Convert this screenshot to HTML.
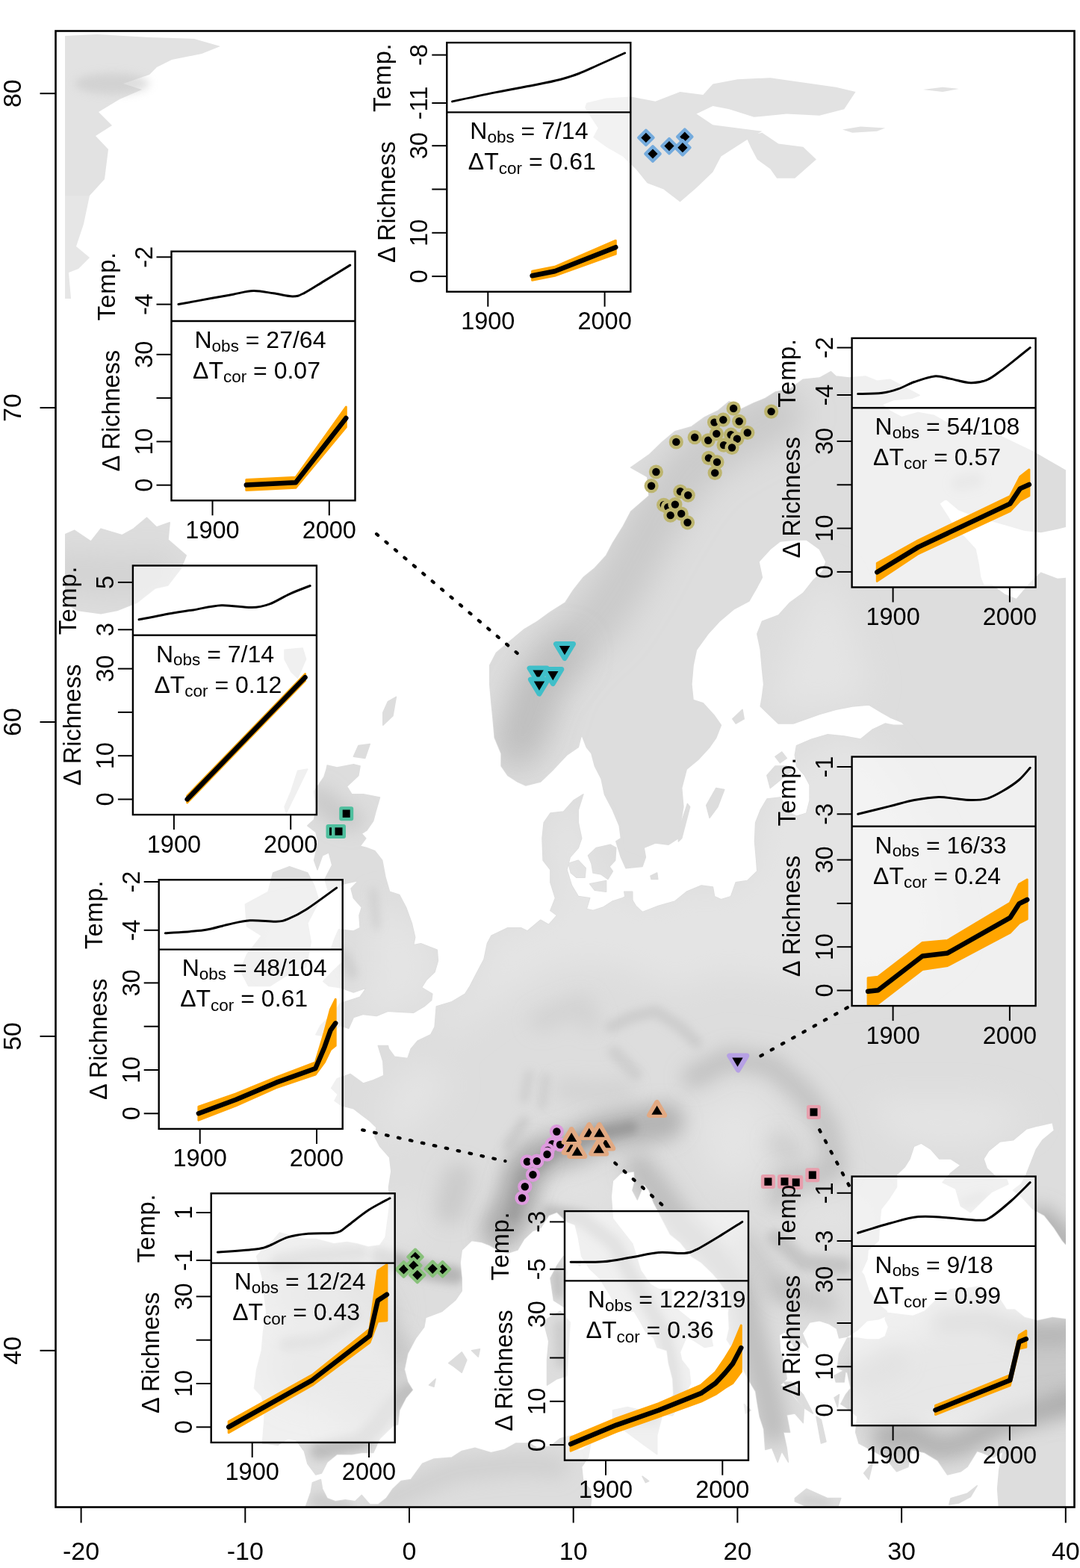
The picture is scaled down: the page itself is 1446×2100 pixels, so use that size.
<!DOCTYPE html>
<html><head><meta charset="utf-8"><title>Species richness change map</title>
<style>html,body{margin:0;padding:0;background:#fff;overflow:hidden;width:1446px;height:2100px;}svg{display:block;}text{font-family:"Liberation Sans", Arial, Helvetica, sans-serif;fill:#000;}</style></head><body>
<svg width="1446" height="2100" viewBox="0 0 1446 2100">
<defs>
<clipPath id="mapclip"><rect x="87" y="42.5" width="1340" height="1975"/></clipPath>
<filter id="b6" filterUnits="userSpaceOnUse" x="0" y="0" width="1446" height="2100"><feGaussianBlur stdDeviation="6"/></filter>
<filter id="b12" filterUnits="userSpaceOnUse" x="0" y="0" width="1446" height="2100"><feGaussianBlur stdDeviation="12"/></filter>
<filter id="b20" filterUnits="userSpaceOnUse" x="0" y="0" width="1446" height="2100"><feGaussianBlur stdDeviation="20"/></filter>
<filter id="b3" filterUnits="userSpaceOnUse" x="0" y="0" width="1446" height="2100"><feGaussianBlur stdDeviation="3"/></filter>
</defs>
<rect width="1446" height="2100" fill="#fff"/>
<g clip-path="url(#mapclip)">
<g id="land" fill="#dddddd" stroke="#dddddd" stroke-width="1.5" stroke-linejoin="round">
<polygon points="1426.8,630.3 1404.8,617.7 1382.9,605.0 1360.9,594.5 1338.9,584.0 1316.9,579.8 1295.0,573.5 1284.0,575.6 1273.0,569.2 1251.0,556.6 1229.1,552.4 1207.1,558.7 1191.7,550.3 1180.7,541.9 1196.1,535.6 1220.3,533.5 1231.3,529.3 1211.5,518.7 1191.7,508.2 1174.1,510.3 1158.8,504.0 1136.8,506.1 1119.2,504.0 1112.6,497.7 1097.2,506.1 1075.3,508.2 1057.7,520.8 1037.9,525.1 1024.7,533.5 1009.4,539.8 991.8,548.2 976.4,537.7 961.0,550.3 943.5,558.7 925.9,571.4 903.9,577.7 886.3,592.4 868.8,609.2 844.6,626.1 866.6,638.7 868.8,664.0 844.6,685.0 833.6,706.0 820.4,727.1 811.6,743.9 796.3,760.8 780.9,773.4 767.7,790.2 756.7,807.1 736.9,819.7 719.4,832.3 701.8,842.8 684.2,857.6 664.4,874.4 655.7,891.2 655.7,916.5 657.9,941.7 660.0,962.8 662.2,988.0 671.0,1009.1 671.0,1025.9 679.8,1038.6 693.0,1047.0 704.0,1052.0 723.8,1047.0 741.3,1030.1 758.9,1011.2 774.3,1000.7 778.7,983.8 785.3,1000.7 791.9,1009.1 796.3,1025.9 805.0,1042.8 809.4,1063.8 820.4,1084.9 829.2,1105.9 831.4,1122.7 824.8,1126.9 831.4,1148.0 838.0,1162.7 860.0,1160.6 864.4,1148.0 862.2,1135.4 877.5,1129.0 895.1,1131.2 908.3,1122.7 910.5,1105.9 914.9,1080.6 912.7,1055.4 919.3,1030.1 934.7,1017.5 950.1,1000.7 958.8,988.0 965.4,971.2 956.6,958.6 941.3,941.7 928.1,937.5 925.9,916.5 928.1,891.2 932.5,870.2 947.9,849.1 963.2,832.3 983.0,815.5 1002.8,805.0 1013.8,786.0 1020.4,773.4 1016.0,752.3 1031.3,735.5 1044.5,725.0 1064.3,722.9 1079.7,722.9 1097.2,735.5 1106.0,752.3 1101.6,765.0 1088.5,777.6 1075.3,794.4 1057.7,807.1 1042.3,823.9 1020.4,832.3 1013.8,849.1 1018.2,870.2 1020.4,895.4 1022.6,916.5 1020.4,933.3 1018.2,946.0 1031.3,958.6 1042.3,969.1 1062.1,969.1 1079.7,962.8 1097.2,956.5 1119.2,950.2 1141.2,946.0 1163.2,943.9 1180.7,954.4 1191.7,960.7 1207.1,967.0 1211.5,971.2 1196.1,971.2 1185.1,969.1 1167.6,977.5 1152.2,990.1 1130.2,985.9 1108.2,983.8 1086.3,990.1 1066.5,998.6 1064.3,1011.2 1066.5,1025.9 1077.5,1038.6 1084.1,1051.2 1084.1,1072.2 1079.7,1089.1 1066.5,1093.3 1057.7,1089.1 1044.5,1068.0 1026.9,1070.1 1018.2,1084.9 1011.6,1101.7 1010.5,1126.9 1012.7,1152.2 1013.8,1166.9 1000.6,1179.6 985.2,1181.7 978.6,1200.6 965.4,1204.8 956.6,1200.6 954.4,1188.0 939.1,1185.9 919.3,1194.3 903.9,1206.9 881.9,1213.2 860.0,1221.6 851.2,1213.2 842.4,1198.5 833.6,1202.7 820.4,1206.9 807.2,1215.3 794.1,1219.5 785.3,1217.4 789.7,1202.7 774.3,1200.6 765.5,1185.9 758.9,1164.8 763.3,1148.0 774.3,1135.4 778.7,1122.7 774.3,1101.7 774.3,1084.9 780.9,1063.8 767.7,1072.2 754.5,1087.0 736.9,1089.1 728.2,1101.7 726.0,1122.7 727.1,1152.2 736.9,1164.8 736.9,1181.7 743.5,1202.7 736.9,1219.5 745.7,1225.9 734.7,1238.5 723.8,1232.2 706.2,1246.9 697.4,1242.7 679.8,1242.7 657.9,1253.2 652.4,1263.7 648.0,1284.8 638.1,1303.7 629.3,1320.6 622.7,1331.1 605.1,1341.6 584.3,1347.9 582.1,1375.3 576.6,1385.8 559.0,1394.2 550.2,1404.7 545.8,1417.4 528.2,1415.3 520.5,1404.7 519.4,1400.5 506.3,1400.5 512.8,1421.6 513.9,1440.5 499.7,1446.8 486.5,1451.0 468.9,1438.4 451.3,1444.7 443.6,1457.3 452.4,1465.8 448.0,1474.2 456.8,1480.5 473.3,1484.7 484.3,1493.1 495.3,1501.5 504.1,1510.0 501.9,1522.6 508.5,1535.2 521.6,1549.9 523.8,1568.9 520.5,1589.9 521.6,1615.2 519.4,1632.0 516.1,1657.3 508.5,1667.8 493.1,1669.9 477.7,1665.7 464.5,1663.6 446.9,1665.7 422.8,1659.4 407.4,1659.4 389.8,1655.2 374.4,1651.0 365.6,1661.5 354.7,1669.9 343.7,1682.5 348.1,1699.4 352.5,1716.2 353.6,1733.0 356.9,1758.3 352.5,1783.5 350.3,1808.8 343.7,1834.1 340.4,1859.3 350.3,1869.8 354.7,1884.6 353.6,1905.6 351.4,1933.0 372.2,1935.1 385.4,1926.7 396.4,1928.8 407.4,1943.5 411.8,1960.3 422.8,1975.1 430.5,1973.0 438.1,1958.2 451.3,1947.7 471.1,1947.7 484.3,1945.6 499.7,1945.6 508.5,1926.7 526.0,1909.8 532.6,1907.7 534.8,1888.8 543.6,1871.9 552.4,1861.4 545.8,1850.9 541.4,1834.1 545.8,1813.0 556.8,1792.0 567.8,1777.2 570.0,1764.6 591.9,1756.2 609.5,1741.5 618.3,1728.8 618.3,1712.0 616.1,1690.9 618.3,1674.1 631.5,1661.5 644.7,1663.6 655.7,1667.8 666.6,1674.1 679.8,1678.3 693.0,1674.1 701.8,1659.4 712.8,1648.9 723.8,1644.6 734.7,1627.8 745.7,1623.6 758.9,1636.2 769.9,1640.4 774.3,1657.3 778.7,1682.5 789.7,1699.4 802.9,1712.0 816.0,1733.0 824.8,1749.9 835.8,1756.2 849.0,1756.2 857.8,1770.9 864.4,1783.5 875.4,1792.0 879.7,1804.6 892.9,1808.8 895.1,1825.6 900.6,1846.7 901.7,1867.7 892.9,1882.5 891.8,1895.1 900.6,1895.9 911.6,1876.1 924.8,1853.0 922.6,1834.1 912.7,1821.4 910.5,1810.9 919.3,1789.9 930.3,1796.2 943.5,1804.6 954.4,1802.5 952.2,1792.0 943.5,1781.4 928.1,1770.9 912.7,1758.3 899.5,1747.8 898.4,1726.7 881.9,1726.7 871.0,1720.4 857.8,1701.5 846.8,1665.7 833.6,1648.9 820.4,1632.0 818.2,1602.6 820.4,1581.5 831.4,1571.0 849.0,1568.9 850.1,1581.5 846.8,1594.1 853.4,1606.8 862.2,1585.7 868.8,1594.1 875.4,1611.0 884.1,1627.8 897.3,1653.1 910.5,1663.6 925.9,1682.5 939.1,1690.9 954.4,1705.7 963.2,1716.2 972.0,1728.8 978.6,1737.2 975.3,1758.3 976.4,1779.3 973.1,1794.1 985.2,1813.0 991.8,1827.7 1002.8,1848.8 1011.6,1863.5 1013.8,1878.2 1017.1,1897.2 1022.6,1914.0 1024.7,1941.4 1033.5,1939.3 1041.2,1958.2 1046.7,1943.5 1055.5,1958.2 1053.3,1939.3 1048.9,1918.2 1057.7,1918.2 1053.3,1895.1 1064.3,1893.0 1075.3,1905.6 1076.4,1886.7 1066.5,1876.1 1053.3,1859.3 1044.5,1855.1 1053.3,1846.7 1051.1,1829.8 1044.5,1808.8 1043.4,1787.8 1051.1,1783.5 1059.9,1798.3 1068.7,1810.9 1073.1,1796.2 1081.9,1804.6 1074.2,1785.7 1084.1,1770.9 1097.2,1768.8 1110.4,1773.0 1120.3,1779.3 1123.6,1792.0 1134.6,1789.9 1147.8,1781.4 1161.0,1768.8 1176.3,1766.7 1186.2,1762.5 1187.3,1756.2 1174.1,1745.7 1163.2,1728.8 1156.6,1707.8 1153.3,1703.6 1161.0,1686.7 1162.1,1674.1 1176.3,1661.5 1177.4,1640.4 1179.6,1619.4 1189.5,1606.8 1200.5,1589.9 1200.5,1573.1 1211.5,1562.6 1218.1,1552.1 1223.6,1535.2 1233.5,1531.0 1246.6,1539.4 1257.6,1552.1 1273.0,1552.1 1286.2,1560.5 1273.0,1571.0 1262.0,1583.6 1279.6,1592.0 1286.2,1615.2 1299.4,1623.6 1316.9,1606.8 1327.9,1596.2 1349.9,1585.7 1347.7,1579.4 1334.5,1577.3 1321.3,1564.7 1316.9,1552.1 1323.5,1541.5 1338.9,1528.9 1356.5,1526.8 1374.1,1512.1 1389.5,1507.9 1409.2,1503.6 1411.4,1514.2 1396.0,1526.8 1387.3,1539.4 1380.7,1556.3 1374.1,1573.1 1367.5,1585.7 1356.5,1594.1 1367.5,1602.6 1382.9,1619.4 1398.2,1627.8 1411.4,1644.6 1422.4,1661.5 1426.8,1666.5 1440.0,1674.1 1440.0,773.4 1415.8,775.5 1393.8,767.1 1378.5,781.8 1360.9,802.8 1345.5,796.5 1327.9,783.9 1316.9,783.9 1312.6,773.4 1310.4,756.6 1306.0,735.5 1290.6,718.7 1277.4,706.0 1268.6,691.3 1257.6,674.5 1266.4,668.2 1284.0,682.9 1306.0,691.3 1327.9,697.6 1349.9,703.9 1371.9,710.3 1393.8,712.4 1415.8,708.1 1440.0,701.8 1440.0,638.7"/>
<polygon points="1187.3,1758.3 1204.9,1760.4 1222.5,1762.5 1237.9,1756.2 1255.4,1739.4 1273.0,1726.7 1295.0,1725.5 1314.8,1722.5 1321.3,1737.2 1336.7,1737.2 1347.7,1754.1 1358.7,1754.1 1371.9,1764.6 1389.5,1768.8 1409.2,1764.6 1426.8,1766.7 1440.0,1766.7 1440.0,2023.5 1337.8,2023.5 1335.6,1994.0 1337.8,1968.7 1343.3,1943.5 1330.1,1951.9 1314.8,1945.6 1308.2,1943.5 1295.0,1964.5 1286.2,1970.8 1268.6,1975.1 1255.4,1956.1 1237.9,1945.6 1220.3,1941.4 1215.9,1964.5 1200.5,1970.8 1185.1,1951.9 1169.8,1943.5 1150.0,1933.0 1145.6,1918.2 1147.8,1897.2 1132.4,1884.6 1125.8,1880.4 1132.4,1867.7 1139.0,1859.3 1134.6,1838.3 1121.4,1831.9 1123.6,1813.0 1129.1,1802.5 1134.6,1792.0 1147.8,1792.0 1161.0,1794.1 1176.3,1794.1 1185.1,1789.9 1189.5,1777.2 1185.1,1766.7"/>
<polygon points="407.4,2023.5 409.6,2017.1 416.2,1998.2 418.4,1985.6 429.4,1981.4 431.6,1994.0 438.1,2006.6 449.1,2010.8 462.3,2008.7 475.5,2010.8 484.3,2002.4 495.3,2015.0 506.3,2015.0 517.2,2006.6 526.0,1994.0 537.0,1983.5 550.2,1981.4 565.6,1960.3 581.0,1954.0 605.1,1951.9 618.3,1943.5 635.9,1939.3 657.9,1945.6 675.4,1941.4 690.8,1933.0 708.4,1933.0 719.4,1939.3 736.9,1937.2 750.1,1926.7 765.5,1922.4 772.1,1928.8 774.3,1943.5 780.9,1941.4 790.8,1933.0 787.5,1951.9 778.7,1964.5 780.9,1985.6 789.7,1994.0 791.9,2006.6 789.7,2023.5"/>
<polygon points="64.7,805.0 49.3,800.7 69.1,783.9 55.9,765.0 22.9,765.0 55.9,754.4 11.9,735.5 36.1,720.8 44.9,699.7 60.3,697.6 80.0,718.7 99.8,710.3 121.8,725.0 135.0,708.1 163.5,716.6 178.9,708.1 196.5,693.4 209.7,706.0 227.2,699.7 225.0,722.9 249.2,743.9 242.6,760.8 225.0,783.9 207.5,788.1 183.3,807.1 156.9,817.6 135.0,821.8 104.2,817.6 82.2,805.0"/>
<polygon points="381.0,870.2 405.2,868.1 409.6,882.8 398.6,908.1 389.8,899.7 381.0,882.8"/>
<polygon points="512.8,971.2 526.0,958.6 530.4,933.3 519.4,939.6 512.8,954.4"/>
<polygon points="473.3,1013.3 488.7,1015.4 495.3,996.5 479.9,998.6"/>
<polygon points="383.2,1089.1 411.8,1030.1 398.6,1032.2 389.8,1059.6 381.0,1080.6"/>
<polygon points="438.1,1025.1 451.3,1028.0 473.3,1023.8 482.1,1025.9 479.9,1038.6 464.5,1053.3 471.1,1063.8 486.5,1063.8 508.5,1068.0 503.0,1087.0 499.7,1099.6 490.9,1112.2 484.3,1116.4 489.8,1122.7 482.1,1133.3 490.9,1135.4 501.9,1139.6 511.7,1152.2 516.1,1175.3 521.6,1194.3 534.8,1198.5 543.6,1215.3 551.3,1236.4 555.7,1255.3 553.5,1265.8 563.4,1263.7 585.3,1272.2 586.4,1286.9 582.1,1301.6 571.1,1312.1 564.5,1322.7 578.8,1331.1 577.7,1339.5 567.8,1347.9 553.5,1356.3 530.4,1355.1 519.4,1354.2 504.1,1360.5 486.5,1358.4 473.3,1362.6 466.7,1377.4 455.7,1373.2 438.1,1387.9 422.8,1385.8 429.4,1373.2 446.9,1356.3 455.7,1343.7 475.5,1337.4 482.1,1335.3 490.9,1322.7 473.3,1329.0 455.7,1322.7 440.3,1320.6 432.7,1314.2 446.9,1299.5 457.9,1289.0 457.9,1270.0 443.6,1270.0 448.0,1257.4 453.5,1244.8 473.3,1246.9 482.1,1242.7 481.0,1225.9 484.3,1215.3 473.3,1202.7 470.0,1190.1 479.9,1179.6 460.1,1183.8 451.3,1190.1 439.2,1192.2 434.9,1177.5 444.7,1158.5 440.3,1141.7 431.6,1145.9 425.0,1164.8 420.6,1152.2 426.1,1126.9 422.8,1114.3 411.8,1105.9 420.6,1097.5 422.8,1080.6 420.6,1059.6 433.8,1040.7 437.1,1030.1"/>
<polygon points="411.8,1169.0 387.6,1160.6 365.6,1169.0 359.1,1194.3 328.3,1211.1 330.5,1240.6 350.3,1253.2 330.5,1278.5 321.7,1299.5 332.7,1320.6 361.3,1320.6 394.2,1299.5 409.6,1295.3 416.2,1261.6 411.8,1236.4 427.2,1206.9 420.6,1185.9"/>
<polygon points="787.5,1145.9 798.5,1135.4 817.1,1131.2 824.8,1135.4 823.7,1152.2 816.0,1160.6 820.4,1166.9 813.8,1177.5 805.0,1171.1 794.1,1169.0 791.9,1156.4"/>
<polygon points="761.1,1156.4 774.3,1152.2 784.2,1162.7 783.1,1175.3 772.1,1175.3 764.4,1169.0"/>
<polygon points="789.7,1183.8 811.6,1179.6 811.6,1194.3 796.3,1192.2"/>
<polygon points="871.0,1173.2 879.7,1169.0 880.8,1177.5 872.1,1177.5"/>
<polygon points="945.7,1078.5 958.8,1055.4 969.8,1057.5 961.0,1080.6 950.1,1095.4"/>
<polygon points="908.3,1126.9 912.7,1122.7 923.7,1080.6 920.4,1076.4 909.4,1110.1"/>
<polygon points="1026.9,1038.6 1037.9,1025.9 1053.3,1025.9 1059.9,1032.2 1046.7,1042.8 1031.3,1055.4"/>
<polygon points="1037.9,1013.3 1046.7,1007.0 1053.3,1015.4 1044.5,1021.7"/>
<polygon points="980.8,962.8 994.0,950.2 996.2,962.8 985.2,969.1"/>
<polygon points="835.8,1194.3 846.8,1194.3 846.8,1206.9 838.0,1206.9"/>
<polygon points="820.4,1888.8 840.2,1884.6 866.6,1890.9 890.7,1880.4 879.7,1922.4 879.7,1947.7 862.2,1935.1 833.6,1914.0 820.4,1901.4"/>
<polygon points="732.5,1766.7 750.1,1756.2 763.3,1770.9 761.1,1804.6 758.9,1842.5 745.7,1846.7 732.5,1855.1 732.5,1821.4 734.7,1796.2 728.2,1770.9"/>
<polygon points="754.5,1682.5 758.9,1703.6 754.5,1749.9 741.3,1741.5 736.9,1712.0 745.7,1695.2"/>
<polygon points="1064.3,2006.6 1079.7,1994.0 1108.2,2006.6 1125.8,2006.6 1121.4,2019.3 1092.9,2023.5 1064.3,2010.8"/>
<polygon points="1273.0,2006.6 1295.0,2000.3 1308.2,1989.8 1299.4,2004.5 1284.0,2012.9 1270.8,2015.0"/>
<polygon points="600.7,1825.6 618.3,1810.9 624.9,1821.4 618.3,1838.3 607.3,1829.8"/>
<polygon points="631.5,1808.8 642.5,1806.7 640.3,1817.2"/>
<polygon points="574.4,1855.1 583.2,1846.7 581.0,1857.2"/>
<polygon points="1048.9,1850.9 1075.3,1884.6 1088.5,1893.0 1075.3,1867.7 1059.9,1850.9"/>
<polygon points="1117.0,1842.5 1132.4,1834.1 1130.2,1850.9 1119.2,1850.9"/>
<polygon points="1117.0,1871.9 1123.6,1867.7 1121.4,1884.6"/>
<polygon points="1156.6,1973.0 1168.7,1958.2 1163.2,1981.4"/>
<polygon points="978.6,1817.2 989.6,1821.4 985.2,1834.1"/>
<polygon points="996.2,1880.4 1005.0,1888.8 998.4,1893.0"/>
<polygon points="769.9,1690.9 777.6,1688.8 776.5,1695.2"/>
<polygon points="860.0,1977.2 868.8,1983.5 864.4,1985.6"/>
<polygon points="1092.9,1897.2 1099.4,1901.4 1106.0,1930.9 1099.4,1933.0"/>
</g>
<g fill="#e2e2e2">
<polygon points="785.3,137.8 811.6,131.5 844.6,129.4 877.5,135.7 910.5,123.1 943.5,127.3 954.4,142.0 932.5,152.6 954.4,167.3 1020.4,175.7 998.4,188.3 965.4,209.4 954.4,230.4 932.5,251.5 910.5,270.4 888.5,253.6 866.6,245.2 851.2,226.2 833.6,209.4 811.6,196.8 794.1,184.1 800.7,171.5 789.7,154.7 783.1,144.1"/>
<polygon points="939.1,129.4 954.4,112.6 987.4,106.3 1031.3,104.2 1075.3,110.5 1119.2,116.8 1145.6,123.1 1130.2,146.2 1097.2,154.7 1053.3,152.6 1009.4,156.8 976.4,146.2 954.4,142.0"/>
<polygon points="998.4,182.0 1020.4,177.8 1042.3,192.5 1075.3,196.8 1092.9,213.6 1064.3,238.8 1040.1,238.8 1031.3,226.2 1013.8,213.6 1005.0,196.8"/>
<polygon points="1128.0,173.6 1152.2,169.4 1185.1,171.5 1174.1,175.7 1141.2,177.8"/>
<polygon points="1235.7,120.1 1262.0,116.8 1284.0,118.9 1262.0,123.1"/>
<polygon points="87.0,48.0 130.0,46.0 200.0,50.0 260.0,52.0 295.0,62.0 270.0,72.0 230.0,80.0 210.0,90.0 200.0,100.0 165.0,112.0 190.0,120.0 160.0,133.0 132.0,150.0 150.0,168.0 128.0,182.0 145.0,200.0 140.0,240.0 120.0,262.0 87.0,262.0"/>
</g>
<polygon points="87.0,262.0 120.0,262.0 112.0,300.0 102.0,330.0 120.0,345.0 105.0,360.0 92.0,365.0 95.0,400.0 87.0,400.0" fill="#e6e6e6"/>
<ellipse cx="150" cy="112" rx="50" ry="14" fill="#c8c8c8" filter="url(#b6)" opacity="0.6"/>
<clipPath id="landclip">
<polygon points="1426.8,630.3 1404.8,617.7 1382.9,605.0 1360.9,594.5 1338.9,584.0 1316.9,579.8 1295.0,573.5 1284.0,575.6 1273.0,569.2 1251.0,556.6 1229.1,552.4 1207.1,558.7 1191.7,550.3 1180.7,541.9 1196.1,535.6 1220.3,533.5 1231.3,529.3 1211.5,518.7 1191.7,508.2 1174.1,510.3 1158.8,504.0 1136.8,506.1 1119.2,504.0 1112.6,497.7 1097.2,506.1 1075.3,508.2 1057.7,520.8 1037.9,525.1 1024.7,533.5 1009.4,539.8 991.8,548.2 976.4,537.7 961.0,550.3 943.5,558.7 925.9,571.4 903.9,577.7 886.3,592.4 868.8,609.2 844.6,626.1 866.6,638.7 868.8,664.0 844.6,685.0 833.6,706.0 820.4,727.1 811.6,743.9 796.3,760.8 780.9,773.4 767.7,790.2 756.7,807.1 736.9,819.7 719.4,832.3 701.8,842.8 684.2,857.6 664.4,874.4 655.7,891.2 655.7,916.5 657.9,941.7 660.0,962.8 662.2,988.0 671.0,1009.1 671.0,1025.9 679.8,1038.6 693.0,1047.0 704.0,1052.0 723.8,1047.0 741.3,1030.1 758.9,1011.2 774.3,1000.7 778.7,983.8 785.3,1000.7 791.9,1009.1 796.3,1025.9 805.0,1042.8 809.4,1063.8 820.4,1084.9 829.2,1105.9 831.4,1122.7 824.8,1126.9 831.4,1148.0 838.0,1162.7 860.0,1160.6 864.4,1148.0 862.2,1135.4 877.5,1129.0 895.1,1131.2 908.3,1122.7 910.5,1105.9 914.9,1080.6 912.7,1055.4 919.3,1030.1 934.7,1017.5 950.1,1000.7 958.8,988.0 965.4,971.2 956.6,958.6 941.3,941.7 928.1,937.5 925.9,916.5 928.1,891.2 932.5,870.2 947.9,849.1 963.2,832.3 983.0,815.5 1002.8,805.0 1013.8,786.0 1020.4,773.4 1016.0,752.3 1031.3,735.5 1044.5,725.0 1064.3,722.9 1079.7,722.9 1097.2,735.5 1106.0,752.3 1101.6,765.0 1088.5,777.6 1075.3,794.4 1057.7,807.1 1042.3,823.9 1020.4,832.3 1013.8,849.1 1018.2,870.2 1020.4,895.4 1022.6,916.5 1020.4,933.3 1018.2,946.0 1031.3,958.6 1042.3,969.1 1062.1,969.1 1079.7,962.8 1097.2,956.5 1119.2,950.2 1141.2,946.0 1163.2,943.9 1180.7,954.4 1191.7,960.7 1207.1,967.0 1211.5,971.2 1196.1,971.2 1185.1,969.1 1167.6,977.5 1152.2,990.1 1130.2,985.9 1108.2,983.8 1086.3,990.1 1066.5,998.6 1064.3,1011.2 1066.5,1025.9 1077.5,1038.6 1084.1,1051.2 1084.1,1072.2 1079.7,1089.1 1066.5,1093.3 1057.7,1089.1 1044.5,1068.0 1026.9,1070.1 1018.2,1084.9 1011.6,1101.7 1010.5,1126.9 1012.7,1152.2 1013.8,1166.9 1000.6,1179.6 985.2,1181.7 978.6,1200.6 965.4,1204.8 956.6,1200.6 954.4,1188.0 939.1,1185.9 919.3,1194.3 903.9,1206.9 881.9,1213.2 860.0,1221.6 851.2,1213.2 842.4,1198.5 833.6,1202.7 820.4,1206.9 807.2,1215.3 794.1,1219.5 785.3,1217.4 789.7,1202.7 774.3,1200.6 765.5,1185.9 758.9,1164.8 763.3,1148.0 774.3,1135.4 778.7,1122.7 774.3,1101.7 774.3,1084.9 780.9,1063.8 767.7,1072.2 754.5,1087.0 736.9,1089.1 728.2,1101.7 726.0,1122.7 727.1,1152.2 736.9,1164.8 736.9,1181.7 743.5,1202.7 736.9,1219.5 745.7,1225.9 734.7,1238.5 723.8,1232.2 706.2,1246.9 697.4,1242.7 679.8,1242.7 657.9,1253.2 652.4,1263.7 648.0,1284.8 638.1,1303.7 629.3,1320.6 622.7,1331.1 605.1,1341.6 584.3,1347.9 582.1,1375.3 576.6,1385.8 559.0,1394.2 550.2,1404.7 545.8,1417.4 528.2,1415.3 520.5,1404.7 519.4,1400.5 506.3,1400.5 512.8,1421.6 513.9,1440.5 499.7,1446.8 486.5,1451.0 468.9,1438.4 451.3,1444.7 443.6,1457.3 452.4,1465.8 448.0,1474.2 456.8,1480.5 473.3,1484.7 484.3,1493.1 495.3,1501.5 504.1,1510.0 501.9,1522.6 508.5,1535.2 521.6,1549.9 523.8,1568.9 520.5,1589.9 521.6,1615.2 519.4,1632.0 516.1,1657.3 508.5,1667.8 493.1,1669.9 477.7,1665.7 464.5,1663.6 446.9,1665.7 422.8,1659.4 407.4,1659.4 389.8,1655.2 374.4,1651.0 365.6,1661.5 354.7,1669.9 343.7,1682.5 348.1,1699.4 352.5,1716.2 353.6,1733.0 356.9,1758.3 352.5,1783.5 350.3,1808.8 343.7,1834.1 340.4,1859.3 350.3,1869.8 354.7,1884.6 353.6,1905.6 351.4,1933.0 372.2,1935.1 385.4,1926.7 396.4,1928.8 407.4,1943.5 411.8,1960.3 422.8,1975.1 430.5,1973.0 438.1,1958.2 451.3,1947.7 471.1,1947.7 484.3,1945.6 499.7,1945.6 508.5,1926.7 526.0,1909.8 532.6,1907.7 534.8,1888.8 543.6,1871.9 552.4,1861.4 545.8,1850.9 541.4,1834.1 545.8,1813.0 556.8,1792.0 567.8,1777.2 570.0,1764.6 591.9,1756.2 609.5,1741.5 618.3,1728.8 618.3,1712.0 616.1,1690.9 618.3,1674.1 631.5,1661.5 644.7,1663.6 655.7,1667.8 666.6,1674.1 679.8,1678.3 693.0,1674.1 701.8,1659.4 712.8,1648.9 723.8,1644.6 734.7,1627.8 745.7,1623.6 758.9,1636.2 769.9,1640.4 774.3,1657.3 778.7,1682.5 789.7,1699.4 802.9,1712.0 816.0,1733.0 824.8,1749.9 835.8,1756.2 849.0,1756.2 857.8,1770.9 864.4,1783.5 875.4,1792.0 879.7,1804.6 892.9,1808.8 895.1,1825.6 900.6,1846.7 901.7,1867.7 892.9,1882.5 891.8,1895.1 900.6,1895.9 911.6,1876.1 924.8,1853.0 922.6,1834.1 912.7,1821.4 910.5,1810.9 919.3,1789.9 930.3,1796.2 943.5,1804.6 954.4,1802.5 952.2,1792.0 943.5,1781.4 928.1,1770.9 912.7,1758.3 899.5,1747.8 898.4,1726.7 881.9,1726.7 871.0,1720.4 857.8,1701.5 846.8,1665.7 833.6,1648.9 820.4,1632.0 818.2,1602.6 820.4,1581.5 831.4,1571.0 849.0,1568.9 850.1,1581.5 846.8,1594.1 853.4,1606.8 862.2,1585.7 868.8,1594.1 875.4,1611.0 884.1,1627.8 897.3,1653.1 910.5,1663.6 925.9,1682.5 939.1,1690.9 954.4,1705.7 963.2,1716.2 972.0,1728.8 978.6,1737.2 975.3,1758.3 976.4,1779.3 973.1,1794.1 985.2,1813.0 991.8,1827.7 1002.8,1848.8 1011.6,1863.5 1013.8,1878.2 1017.1,1897.2 1022.6,1914.0 1024.7,1941.4 1033.5,1939.3 1041.2,1958.2 1046.7,1943.5 1055.5,1958.2 1053.3,1939.3 1048.9,1918.2 1057.7,1918.2 1053.3,1895.1 1064.3,1893.0 1075.3,1905.6 1076.4,1886.7 1066.5,1876.1 1053.3,1859.3 1044.5,1855.1 1053.3,1846.7 1051.1,1829.8 1044.5,1808.8 1043.4,1787.8 1051.1,1783.5 1059.9,1798.3 1068.7,1810.9 1073.1,1796.2 1081.9,1804.6 1074.2,1785.7 1084.1,1770.9 1097.2,1768.8 1110.4,1773.0 1120.3,1779.3 1123.6,1792.0 1134.6,1789.9 1147.8,1781.4 1161.0,1768.8 1176.3,1766.7 1186.2,1762.5 1187.3,1756.2 1174.1,1745.7 1163.2,1728.8 1156.6,1707.8 1153.3,1703.6 1161.0,1686.7 1162.1,1674.1 1176.3,1661.5 1177.4,1640.4 1179.6,1619.4 1189.5,1606.8 1200.5,1589.9 1200.5,1573.1 1211.5,1562.6 1218.1,1552.1 1223.6,1535.2 1233.5,1531.0 1246.6,1539.4 1257.6,1552.1 1273.0,1552.1 1286.2,1560.5 1273.0,1571.0 1262.0,1583.6 1279.6,1592.0 1286.2,1615.2 1299.4,1623.6 1316.9,1606.8 1327.9,1596.2 1349.9,1585.7 1347.7,1579.4 1334.5,1577.3 1321.3,1564.7 1316.9,1552.1 1323.5,1541.5 1338.9,1528.9 1356.5,1526.8 1374.1,1512.1 1389.5,1507.9 1409.2,1503.6 1411.4,1514.2 1396.0,1526.8 1387.3,1539.4 1380.7,1556.3 1374.1,1573.1 1367.5,1585.7 1356.5,1594.1 1367.5,1602.6 1382.9,1619.4 1398.2,1627.8 1411.4,1644.6 1422.4,1661.5 1426.8,1666.5 1440.0,1674.1 1440.0,773.4 1415.8,775.5 1393.8,767.1 1378.5,781.8 1360.9,802.8 1345.5,796.5 1327.9,783.9 1316.9,783.9 1312.6,773.4 1310.4,756.6 1306.0,735.5 1290.6,718.7 1277.4,706.0 1268.6,691.3 1257.6,674.5 1266.4,668.2 1284.0,682.9 1306.0,691.3 1327.9,697.6 1349.9,703.9 1371.9,710.3 1393.8,712.4 1415.8,708.1 1440.0,701.8 1440.0,638.7"/>
<polygon points="1187.3,1758.3 1204.9,1760.4 1222.5,1762.5 1237.9,1756.2 1255.4,1739.4 1273.0,1726.7 1295.0,1725.5 1314.8,1722.5 1321.3,1737.2 1336.7,1737.2 1347.7,1754.1 1358.7,1754.1 1371.9,1764.6 1389.5,1768.8 1409.2,1764.6 1426.8,1766.7 1440.0,1766.7 1440.0,2023.5 1337.8,2023.5 1335.6,1994.0 1337.8,1968.7 1343.3,1943.5 1330.1,1951.9 1314.8,1945.6 1308.2,1943.5 1295.0,1964.5 1286.2,1970.8 1268.6,1975.1 1255.4,1956.1 1237.9,1945.6 1220.3,1941.4 1215.9,1964.5 1200.5,1970.8 1185.1,1951.9 1169.8,1943.5 1150.0,1933.0 1145.6,1918.2 1147.8,1897.2 1132.4,1884.6 1125.8,1880.4 1132.4,1867.7 1139.0,1859.3 1134.6,1838.3 1121.4,1831.9 1123.6,1813.0 1129.1,1802.5 1134.6,1792.0 1147.8,1792.0 1161.0,1794.1 1176.3,1794.1 1185.1,1789.9 1189.5,1777.2 1185.1,1766.7"/>
<polygon points="407.4,2023.5 409.6,2017.1 416.2,1998.2 418.4,1985.6 429.4,1981.4 431.6,1994.0 438.1,2006.6 449.1,2010.8 462.3,2008.7 475.5,2010.8 484.3,2002.4 495.3,2015.0 506.3,2015.0 517.2,2006.6 526.0,1994.0 537.0,1983.5 550.2,1981.4 565.6,1960.3 581.0,1954.0 605.1,1951.9 618.3,1943.5 635.9,1939.3 657.9,1945.6 675.4,1941.4 690.8,1933.0 708.4,1933.0 719.4,1939.3 736.9,1937.2 750.1,1926.7 765.5,1922.4 772.1,1928.8 774.3,1943.5 780.9,1941.4 790.8,1933.0 787.5,1951.9 778.7,1964.5 780.9,1985.6 789.7,1994.0 791.9,2006.6 789.7,2023.5"/>
<polygon points="64.7,805.0 49.3,800.7 69.1,783.9 55.9,765.0 22.9,765.0 55.9,754.4 11.9,735.5 36.1,720.8 44.9,699.7 60.3,697.6 80.0,718.7 99.8,710.3 121.8,725.0 135.0,708.1 163.5,716.6 178.9,708.1 196.5,693.4 209.7,706.0 227.2,699.7 225.0,722.9 249.2,743.9 242.6,760.8 225.0,783.9 207.5,788.1 183.3,807.1 156.9,817.6 135.0,821.8 104.2,817.6 82.2,805.0"/>
<polygon points="438.1,1025.1 451.3,1028.0 473.3,1023.8 482.1,1025.9 479.9,1038.6 464.5,1053.3 471.1,1063.8 486.5,1063.8 508.5,1068.0 503.0,1087.0 499.7,1099.6 490.9,1112.2 484.3,1116.4 489.8,1122.7 482.1,1133.3 490.9,1135.4 501.9,1139.6 511.7,1152.2 516.1,1175.3 521.6,1194.3 534.8,1198.5 543.6,1215.3 551.3,1236.4 555.7,1255.3 553.5,1265.8 563.4,1263.7 585.3,1272.2 586.4,1286.9 582.1,1301.6 571.1,1312.1 564.5,1322.7 578.8,1331.1 577.7,1339.5 567.8,1347.9 553.5,1356.3 530.4,1355.1 519.4,1354.2 504.1,1360.5 486.5,1358.4 473.3,1362.6 466.7,1377.4 455.7,1373.2 438.1,1387.9 422.8,1385.8 429.4,1373.2 446.9,1356.3 455.7,1343.7 475.5,1337.4 482.1,1335.3 490.9,1322.7 473.3,1329.0 455.7,1322.7 440.3,1320.6 432.7,1314.2 446.9,1299.5 457.9,1289.0 457.9,1270.0 443.6,1270.0 448.0,1257.4 453.5,1244.8 473.3,1246.9 482.1,1242.7 481.0,1225.9 484.3,1215.3 473.3,1202.7 470.0,1190.1 479.9,1179.6 460.1,1183.8 451.3,1190.1 439.2,1192.2 434.9,1177.5 444.7,1158.5 440.3,1141.7 431.6,1145.9 425.0,1164.8 420.6,1152.2 426.1,1126.9 422.8,1114.3 411.8,1105.9 420.6,1097.5 422.8,1080.6 420.6,1059.6 433.8,1040.7 437.1,1030.1"/>
<polygon points="411.8,1169.0 387.6,1160.6 365.6,1169.0 359.1,1194.3 328.3,1211.1 330.5,1240.6 350.3,1253.2 330.5,1278.5 321.7,1299.5 332.7,1320.6 361.3,1320.6 394.2,1299.5 409.6,1295.3 416.2,1261.6 411.8,1236.4 427.2,1206.9 420.6,1185.9"/>
<polygon points="787.5,1145.9 798.5,1135.4 817.1,1131.2 824.8,1135.4 823.7,1152.2 816.0,1160.6 820.4,1166.9 813.8,1177.5 805.0,1171.1 794.1,1169.0 791.9,1156.4"/>
<polygon points="761.1,1156.4 774.3,1152.2 784.2,1162.7 783.1,1175.3 772.1,1175.3 764.4,1169.0"/>
<polygon points="789.7,1183.8 811.6,1179.6 811.6,1194.3 796.3,1192.2"/>
<polygon points="871.0,1173.2 879.7,1169.0 880.8,1177.5 872.1,1177.5"/>
<polygon points="945.7,1078.5 958.8,1055.4 969.8,1057.5 961.0,1080.6 950.1,1095.4"/>
<polygon points="908.3,1126.9 912.7,1122.7 923.7,1080.6 920.4,1076.4 909.4,1110.1"/>
<polygon points="1026.9,1038.6 1037.9,1025.9 1053.3,1025.9 1059.9,1032.2 1046.7,1042.8 1031.3,1055.4"/>
<polygon points="1037.9,1013.3 1046.7,1007.0 1053.3,1015.4 1044.5,1021.7"/>
<polygon points="980.8,962.8 994.0,950.2 996.2,962.8 985.2,969.1"/>
<polygon points="835.8,1194.3 846.8,1194.3 846.8,1206.9 838.0,1206.9"/>
<polygon points="820.4,1888.8 840.2,1884.6 866.6,1890.9 890.7,1880.4 879.7,1922.4 879.7,1947.7 862.2,1935.1 833.6,1914.0 820.4,1901.4"/>
<polygon points="732.5,1766.7 750.1,1756.2 763.3,1770.9 761.1,1804.6 758.9,1842.5 745.7,1846.7 732.5,1855.1 732.5,1821.4 734.7,1796.2 728.2,1770.9"/>
<polygon points="754.5,1682.5 758.9,1703.6 754.5,1749.9 741.3,1741.5 736.9,1712.0 745.7,1695.2"/>
<polygon points="1064.3,2006.6 1079.7,1994.0 1108.2,2006.6 1125.8,2006.6 1121.4,2019.3 1092.9,2023.5 1064.3,2010.8"/>
<polygon points="1273.0,2006.6 1295.0,2000.3 1308.2,1989.8 1299.4,2004.5 1284.0,2012.9 1270.8,2015.0"/>
<polygon points="600.7,1825.6 618.3,1810.9 624.9,1821.4 618.3,1838.3 607.3,1829.8"/>
<polygon points="631.5,1808.8 642.5,1806.7 640.3,1817.2"/>
<polygon points="574.4,1855.1 583.2,1846.7 581.0,1857.2"/>
<polygon points="1048.9,1850.9 1075.3,1884.6 1088.5,1893.0 1075.3,1867.7 1059.9,1850.9"/>
<polygon points="1117.0,1842.5 1132.4,1834.1 1130.2,1850.9 1119.2,1850.9"/>
<polygon points="1117.0,1871.9 1123.6,1867.7 1121.4,1884.6"/>
<polygon points="1156.6,1973.0 1168.7,1958.2 1163.2,1981.4"/>
<polygon points="978.6,1817.2 989.6,1821.4 985.2,1834.1"/>
<polygon points="996.2,1880.4 1005.0,1888.8 998.4,1893.0"/>
<polygon points="769.9,1690.9 777.6,1688.8 776.5,1695.2"/>
<polygon points="860.0,1977.2 868.8,1983.5 864.4,1985.6"/>
<polygon points="1092.9,1897.2 1099.4,1901.4 1106.0,1930.9 1099.4,1933.0"/>
</clipPath>
<g clip-path="url(#landclip)">
<g fill="#e4e4e4" filter="url(#b20)">
<polygon points="482.1,1366.9 493.1,1303.7 493.1,1240.6 515.0,1206.9 559.0,1240.6 587.5,1282.7 574.4,1337.4 526.0,1358.4"/>
<polygon points="416.2,1228.0 361.3,1249.0 372.2,1282.7 405.2,1282.7"/>
<polygon points="581.0,1366.9 624.9,1337.4 657.9,1249.0 701.8,1236.4 745.7,1211.1 734.7,1114.3 756.7,1072.2 785.3,1114.3 789.7,1177.5 833.6,1190.1 866.6,1211.1 921.5,1185.9 965.4,1194.3 1009.4,1164.8 1020.4,1093.3 1053.3,1030.1 1119.2,988.0 1163.2,996.5 1207.1,1051.2 1251.0,1135.4 1273.0,1261.6 1207.1,1312.1 1119.2,1324.8 1031.3,1312.1 965.4,1303.7 899.5,1324.8 833.6,1295.3 789.7,1291.1 745.7,1295.3 701.8,1320.6 646.9,1354.2 602.9,1387.9"/>
<polygon points="932.5,1493.1 965.4,1472.1 1020.4,1463.7 1031.3,1514.2 1009.4,1577.3 965.4,1585.7 943.5,1556.3"/>
<polygon points="719.4,1589.9 745.7,1577.3 789.7,1581.5 822.6,1589.9 818.2,1619.4 778.7,1606.8 723.8,1606.8"/>
<polygon points="1042.3,1632.0 1119.2,1606.8 1163.2,1619.4 1163.2,1648.9 1075.3,1653.1 1046.7,1644.6"/>
<polygon points="1163.2,1472.1 1316.9,1472.1 1382.9,1493.1 1316.9,1535.2 1229.1,1535.2 1185.1,1514.2"/>
<polygon points="1031.3,946.0 1075.3,819.7 1108.2,765.0 1141.2,840.7 1163.2,924.9 1119.2,946.0"/>
<polygon points="515.0,1535.2 570.0,1493.1 602.9,1451.0 559.0,1417.4 515.0,1472.1"/>
<polygon points="526.0,1606.8 559.0,1619.4 559.0,1657.3 521.6,1653.1"/>
</g>
</g>
<g clip-path="url(#landclip)" fill="none" stroke-linecap="round" stroke-linejoin="round">
<polyline points="675.4,1640.4 693.0,1611.0 699.6,1577.3 712.8,1560.5 734.7,1543.6 767.7,1535.2 800.7,1518.4 833.6,1510.0 866.6,1505.8 890.7,1501.5" stroke="#949494" stroke-opacity="0.55" stroke-width="50" filter="url(#b12)"/>
<polyline points="686.4,1627.8 701.8,1573.1 745.7,1539.4 800.7,1518.4 844.6,1510.0" stroke="#808080" stroke-opacity="0.50" stroke-width="18" filter="url(#b6)"/>
<polyline points="664.4,1653.1 679.8,1627.8 690.8,1598.4 699.6,1568.9 710.6,1552.1" stroke="#a4a4a4" stroke-opacity="0.45" stroke-width="45" filter="url(#b12)"/>
<polyline points="508.5,1682.5 548.0,1695.2 581.0,1703.6 609.5,1707.8" stroke="#909090" stroke-opacity="0.50" stroke-width="24" filter="url(#b6)"/>
<polyline points="372.2,1690.9 416.2,1682.5 449.1,1680.4 482.1,1678.3" stroke="#a0a0a0" stroke-opacity="0.45" stroke-width="22" filter="url(#b6)"/>
<polyline points="471.1,1716.2 499.7,1741.5 515.0,1775.1 526.0,1800.4 537.0,1813.0" stroke="#a8a8a8" stroke-opacity="0.45" stroke-width="30" filter="url(#b12)"/>
<polyline points="383.2,1800.4 427.2,1796.2 460.1,1779.3 477.7,1762.5" stroke="#a0a0a0" stroke-opacity="0.45" stroke-width="18" filter="url(#b6)"/>
<polyline points="427.2,1943.5 460.1,1935.1 482.1,1930.9 504.1,1909.8 526.0,1880.4 548.0,1863.5" stroke="#a0a0a0" stroke-opacity="0.50" stroke-width="24" filter="url(#b6)"/>
<polyline points="405.2,1829.8 449.1,1838.3 482.1,1829.8 515.0,1842.5" stroke="#c4c4c4" stroke-opacity="0.50" stroke-width="90" filter="url(#b20)"/>
<polyline points="405.2,1733.0 460.1,1741.5 493.1,1754.1" stroke="#c4c4c4" stroke-opacity="0.50" stroke-width="70" filter="url(#b20)"/>
<polyline points="471.1,1893.0 515.0,1893.0" stroke="#c0c0c0" stroke-opacity="0.45" stroke-width="40" filter="url(#b20)"/>
<polyline points="602.9,1619.4 613.9,1577.3" stroke="#b0b0b0" stroke-opacity="0.40" stroke-width="40" filter="url(#b12)"/>
<polyline points="679.8,1535.2 701.8,1501.5" stroke="#b0b0b0" stroke-opacity="0.40" stroke-width="14" filter="url(#b6)"/>
<polyline points="701.8,1472.1 708.4,1438.4" stroke="#b8b8b8" stroke-opacity="0.40" stroke-width="12" filter="url(#b6)"/>
<polyline points="726.0,1480.5 730.4,1442.6" stroke="#b8b8b8" stroke-opacity="0.40" stroke-width="12" filter="url(#b6)"/>
<polyline points="734.7,1623.6 778.7,1632.0 822.6,1665.7 844.6,1707.8 866.6,1745.7 888.5,1783.5 899.5,1829.8 903.9,1871.9" stroke="#a0a0a0" stroke-opacity="0.50" stroke-width="20" filter="url(#b6)"/>
<polyline points="855.6,1564.7 881.9,1598.4 910.5,1640.4 943.5,1669.9 972.0,1699.4 994.0,1733.0 1005.0,1787.8 1016.0,1829.8 1026.9,1867.7 1035.7,1914.0" stroke="#a0a0a0" stroke-opacity="0.50" stroke-width="40" filter="url(#b12)"/>
<polyline points="1037.9,1657.3 1075.3,1690.9 1130.2,1695.2" stroke="#a8a8a8" stroke-opacity="0.45" stroke-width="22" filter="url(#b6)"/>
<polyline points="1042.3,1724.6 1075.3,1737.2 1108.2,1745.7" stroke="#a8a8a8" stroke-opacity="0.45" stroke-width="26" filter="url(#b12)"/>
<polyline points="998.4,1661.5 1026.9,1703.6 1048.9,1733.0" stroke="#b0b0b0" stroke-opacity="0.40" stroke-width="30" filter="url(#b12)"/>
<polyline points="928.1,1442.6 976.4,1417.4 1031.3,1425.8 1075.3,1463.7 1106.0,1505.8 1119.2,1564.7 1086.3,1577.3 1048.9,1581.5 1042.3,1606.8" stroke="#a8a8a8" stroke-opacity="0.50" stroke-width="30" filter="url(#b12)"/>
<polyline points="1042.3,1531.0 1059.9,1543.6" stroke="#b8b8b8" stroke-opacity="0.40" stroke-width="30" filter="url(#b12)"/>
<polyline points="818.2,1375.3 844.6,1362.6 877.5,1354.2 910.5,1375.3 932.5,1396.3" stroke="#b8b8b8" stroke-opacity="0.45" stroke-width="16" filter="url(#b6)"/>
<polyline points="822.6,1408.9 851.2,1438.4" stroke="#b8b8b8" stroke-opacity="0.40" stroke-width="18" filter="url(#b6)"/>
<polyline points="723.8,1366.9 778.7,1345.8 789.7,1366.9" stroke="#c4c4c4" stroke-opacity="0.40" stroke-width="30" filter="url(#b12)"/>
<polyline points="756.7,1459.5 800.7,1463.7 833.6,1459.5" stroke="#c0c0c0" stroke-opacity="0.35" stroke-width="30" filter="url(#b12)"/>
<polyline points="690.8,1000.7 712.8,954.4 723.8,912.3 745.7,882.8 767.7,857.6 800.7,828.1 833.6,777.6 866.6,714.5 899.5,659.7 932.5,617.7 976.4,588.2 1009.4,571.4 1042.3,554.5" stroke="#b4b4b4" stroke-opacity="0.45" stroke-width="70" filter="url(#b20)"/>
<polyline points="697.4,988.0 712.8,933.3 734.7,899.7 756.7,874.4" stroke="#a4a4a4" stroke-opacity="0.35" stroke-width="50" filter="url(#b20)"/>
<polyline points="427.2,1068.0 449.1,1089.1 471.1,1097.5" stroke="#b0b0b0" stroke-opacity="0.45" stroke-width="30" filter="url(#b12)"/>
<polyline points="460.1,1278.5 471.1,1303.7" stroke="#b8b8b8" stroke-opacity="0.40" stroke-width="16" filter="url(#b6)"/>
<polyline points="499.7,1194.3 504.1,1240.6" stroke="#b8b8b8" stroke-opacity="0.40" stroke-width="10" filter="url(#b6)"/>
<polyline points="86.6,765.0 130.6,769.2 174.5,773.4 207.5,765.0" stroke="#c0c0c0" stroke-opacity="0.40" stroke-width="50" filter="url(#b20)"/>
<polyline points="1196.1,1867.7 1251.0,1842.5 1316.9,1838.3 1382.9,1829.8 1437.8,1829.8" stroke="#b8b8b8" stroke-opacity="0.55" stroke-width="110" filter="url(#b20)"/>
<polyline points="1185.1,1926.7 1218.1,1922.4 1255.4,1939.3 1284.0,1935.1 1316.9,1918.2 1349.9,1901.4 1382.9,1893.0 1437.8,1876.1" stroke="#909090" stroke-opacity="0.55" stroke-width="34" filter="url(#b12)"/>
<polyline points="1262.0,1770.9 1316.9,1766.7 1360.9,1783.5 1404.8,1787.8 1437.8,1783.5" stroke="#9c9c9c" stroke-opacity="0.50" stroke-width="30" filter="url(#b12)"/>
<polyline points="1152.2,1842.5 1196.1,1821.4" stroke="#b0b0b0" stroke-opacity="0.40" stroke-width="40" filter="url(#b12)"/>
<polyline points="1393.8,1632.0 1437.8,1674.1" stroke="#8c8c8c" stroke-opacity="0.55" stroke-width="34" filter="url(#b12)"/>
<polyline points="515.0,2010.8 570.0,1985.6 613.9,1968.7 657.9,1964.5 701.8,1960.3 745.7,1964.5" stroke="#b8b8b8" stroke-opacity="0.35" stroke-width="30" filter="url(#b12)"/>
<polyline points="427.2,2010.8 460.1,2019.3" stroke="#b0b0b0" stroke-opacity="0.35" stroke-width="24" filter="url(#b6)"/>
<polyline points="745.7,1703.6 747.9,1733.0" stroke="#a0a0a0" stroke-opacity="0.50" stroke-width="14" filter="url(#b6)"/>
<polyline points="750.1,1775.1 752.3,1825.6" stroke="#b0b0b0" stroke-opacity="0.40" stroke-width="16" filter="url(#b6)"/>
<polyline points="844.6,1901.4 877.5,1901.4" stroke="#a8a8a8" stroke-opacity="0.45" stroke-width="14" filter="url(#b6)"/>
<polyline points="1075.3,2008.7 1108.2,2012.9" stroke="#a8a8a8" stroke-opacity="0.40" stroke-width="8" filter="url(#b6)"/>
<polyline points="1290.6,1611.0 1316.9,1602.6" stroke="#b0b0b0" stroke-opacity="0.40" stroke-width="10" filter="url(#b6)"/>
<polyline points="1284.0,647.1 1306.0,642.9" stroke="#b8b8b8" stroke-opacity="0.40" stroke-width="20" filter="url(#b6)"/>
</g>
</g>
<rect x="74.5" y="41.5" width="1364" height="1977" fill="none" stroke="#000" stroke-width="2.6"/>
<line x1="108.6" y1="2018.5" x2="108.6" y2="2039.5" stroke="#000" stroke-width="2"/>
<text x="108.6" y="2089" font-size="34" text-anchor="middle">-20</text>
<line x1="328.3" y1="2018.5" x2="328.3" y2="2039.5" stroke="#000" stroke-width="2"/>
<text x="328.3" y="2089" font-size="34" text-anchor="middle">-10</text>
<line x1="548.0" y1="2018.5" x2="548.0" y2="2039.5" stroke="#000" stroke-width="2"/>
<text x="548.0" y="2089" font-size="34" text-anchor="middle">0</text>
<line x1="767.7" y1="2018.5" x2="767.7" y2="2039.5" stroke="#000" stroke-width="2"/>
<text x="767.7" y="2089" font-size="34" text-anchor="middle">10</text>
<line x1="987.4" y1="2018.5" x2="987.4" y2="2039.5" stroke="#000" stroke-width="2"/>
<text x="987.4" y="2089" font-size="34" text-anchor="middle">20</text>
<line x1="1207.1" y1="2018.5" x2="1207.1" y2="2039.5" stroke="#000" stroke-width="2"/>
<text x="1207.1" y="2089" font-size="34" text-anchor="middle">30</text>
<line x1="1426.8" y1="2018.5" x2="1426.8" y2="2039.5" stroke="#000" stroke-width="2"/>
<text x="1426.8" y="2089" font-size="34" text-anchor="middle">40</text>
<line x1="53.5" y1="1808.8" x2="74.5" y2="1808.8" stroke="#000" stroke-width="2"/>
<text transform="translate(28,1808.8) rotate(-90)" font-size="34" text-anchor="middle">40</text>
<line x1="53.5" y1="1387.9" x2="74.5" y2="1387.9" stroke="#000" stroke-width="2"/>
<text transform="translate(28,1387.9) rotate(-90)" font-size="34" text-anchor="middle">50</text>
<line x1="53.5" y1="967.0" x2="74.5" y2="967.0" stroke="#000" stroke-width="2"/>
<text transform="translate(28,967.0) rotate(-90)" font-size="34" text-anchor="middle">60</text>
<line x1="53.5" y1="546.1" x2="74.5" y2="546.1" stroke="#000" stroke-width="2"/>
<text transform="translate(28,546.1) rotate(-90)" font-size="34" text-anchor="middle">70</text>
<line x1="53.5" y1="125.2" x2="74.5" y2="125.2" stroke="#000" stroke-width="2"/>
<text transform="translate(28,125.2) rotate(-90)" font-size="34" text-anchor="middle">80</text>
<line x1="501.2" y1="712.7" x2="701.0" y2="882.0" stroke="#000" stroke-width="4.3" stroke-linecap="round" stroke-dasharray="2.6 13.7" stroke-dashoffset="-3.8"/>
<line x1="1138.0" y1="1347.5" x2="1008.0" y2="1420.0" stroke="#000" stroke-width="4.3" stroke-linecap="round" stroke-dasharray="2.6 13.7" stroke-dashoffset="-3.8"/>
<line x1="481.5" y1="1512.5" x2="676.5" y2="1555.0" stroke="#000" stroke-width="4.3" stroke-linecap="round" stroke-dasharray="2.6 13.7" stroke-dashoffset="-3.8"/>
<line x1="820.5" y1="1555.0" x2="896.0" y2="1622.0" stroke="#000" stroke-width="4.3" stroke-linecap="round" stroke-dasharray="2.6 13.7" stroke-dashoffset="-3.8"/>
<line x1="1095.5" y1="1510.0" x2="1138.0" y2="1590.0" stroke="#000" stroke-width="4.3" stroke-linecap="round" stroke-dasharray="2.6 13.7" stroke-dashoffset="-3.8"/>
<polygon points="864.9,174.6 874.7,184.4 864.9,194.2 855.1,184.4" fill="#74abdd" stroke="#74abdd" stroke-width="4" stroke-linejoin="round"/>
<polygon points="864.9,177.8 871.5,184.4 864.9,191.0 858.3,184.4" fill="#000"/>
<polygon points="874.0,196.2 883.8,206.0 874.0,215.8 864.2,206.0" fill="#74abdd" stroke="#74abdd" stroke-width="4" stroke-linejoin="round"/>
<polygon points="874.0,199.4 880.6,206.0 874.0,212.6 867.4,206.0" fill="#000"/>
<polygon points="896.0,185.8 905.8,195.6 896.0,205.4 886.2,195.6" fill="#74abdd" stroke="#74abdd" stroke-width="4" stroke-linejoin="round"/>
<polygon points="896.0,189.0 902.6,195.6 896.0,202.2 889.4,195.6" fill="#000"/>
<polygon points="916.8,173.4 926.6,183.2 916.8,193.0 907.0,183.2" fill="#74abdd" stroke="#74abdd" stroke-width="4" stroke-linejoin="round"/>
<polygon points="916.8,176.6 923.4,183.2 916.8,189.8 910.2,183.2" fill="#000"/>
<polygon points="913.9,187.9 923.7,197.7 913.9,207.5 904.1,197.7" fill="#74abdd" stroke="#74abdd" stroke-width="4" stroke-linejoin="round"/>
<polygon points="913.9,191.1 920.5,197.7 913.9,204.3 907.3,197.7" fill="#000"/>
<circle cx="982.1" cy="547.0" r="9.6" fill="#bdb56f"/>
<circle cx="982.1" cy="547.0" r="5.2" fill="#000"/>
<circle cx="1032.6" cy="551.1" r="9.6" fill="#bdb56f"/>
<circle cx="1032.6" cy="551.1" r="5.2" fill="#000"/>
<circle cx="956.5" cy="565.6" r="9.6" fill="#bdb56f"/>
<circle cx="956.5" cy="565.6" r="5.2" fill="#000"/>
<circle cx="968.3" cy="562.2" r="9.6" fill="#bdb56f"/>
<circle cx="968.3" cy="562.2" r="5.2" fill="#000"/>
<circle cx="989.7" cy="564.3" r="9.6" fill="#bdb56f"/>
<circle cx="989.7" cy="564.3" r="5.2" fill="#000"/>
<circle cx="930.2" cy="585.7" r="9.6" fill="#bdb56f"/>
<circle cx="930.2" cy="585.7" r="5.2" fill="#000"/>
<circle cx="905.3" cy="591.9" r="9.6" fill="#bdb56f"/>
<circle cx="905.3" cy="591.9" r="5.2" fill="#000"/>
<circle cx="948.2" cy="589.8" r="9.6" fill="#bdb56f"/>
<circle cx="948.2" cy="589.8" r="5.2" fill="#000"/>
<circle cx="959.3" cy="580.9" r="9.6" fill="#bdb56f"/>
<circle cx="959.3" cy="580.9" r="5.2" fill="#000"/>
<circle cx="978.6" cy="582.2" r="9.6" fill="#bdb56f"/>
<circle cx="978.6" cy="582.2" r="5.2" fill="#000"/>
<circle cx="1000.8" cy="579.5" r="9.6" fill="#bdb56f"/>
<circle cx="1000.8" cy="579.5" r="5.2" fill="#000"/>
<circle cx="986.9" cy="587.8" r="9.6" fill="#bdb56f"/>
<circle cx="986.9" cy="587.8" r="5.2" fill="#000"/>
<circle cx="969.0" cy="596.1" r="9.6" fill="#bdb56f"/>
<circle cx="969.0" cy="596.1" r="5.2" fill="#000"/>
<circle cx="980.0" cy="599.5" r="9.6" fill="#bdb56f"/>
<circle cx="980.0" cy="599.5" r="5.2" fill="#000"/>
<circle cx="948.9" cy="613.4" r="9.6" fill="#bdb56f"/>
<circle cx="948.9" cy="613.4" r="5.2" fill="#000"/>
<circle cx="960.0" cy="618.9" r="9.6" fill="#bdb56f"/>
<circle cx="960.0" cy="618.9" r="5.2" fill="#000"/>
<circle cx="957.2" cy="633.4" r="9.6" fill="#bdb56f"/>
<circle cx="957.2" cy="633.4" r="5.2" fill="#000"/>
<circle cx="878.4" cy="632.0" r="9.6" fill="#bdb56f"/>
<circle cx="878.4" cy="632.0" r="5.2" fill="#000"/>
<circle cx="872.1" cy="650.7" r="9.6" fill="#bdb56f"/>
<circle cx="872.1" cy="650.7" r="5.2" fill="#000"/>
<circle cx="910.9" cy="658.3" r="9.6" fill="#bdb56f"/>
<circle cx="910.9" cy="658.3" r="5.2" fill="#000"/>
<circle cx="921.2" cy="663.2" r="9.6" fill="#bdb56f"/>
<circle cx="921.2" cy="663.2" r="5.2" fill="#000"/>
<circle cx="888.7" cy="676.3" r="9.6" fill="#bdb56f"/>
<circle cx="888.7" cy="676.3" r="5.2" fill="#000"/>
<circle cx="894.3" cy="679.1" r="9.6" fill="#bdb56f"/>
<circle cx="894.3" cy="679.1" r="5.2" fill="#000"/>
<circle cx="903.9" cy="675.6" r="9.6" fill="#bdb56f"/>
<circle cx="903.9" cy="675.6" r="5.2" fill="#000"/>
<circle cx="897.7" cy="690.1" r="9.6" fill="#bdb56f"/>
<circle cx="897.7" cy="690.1" r="5.2" fill="#000"/>
<circle cx="912.2" cy="688.0" r="9.6" fill="#bdb56f"/>
<circle cx="912.2" cy="688.0" r="5.2" fill="#000"/>
<circle cx="920.5" cy="699.8" r="9.6" fill="#bdb56f"/>
<circle cx="920.5" cy="699.8" r="5.2" fill="#000"/>
<polygon points="744.5,862.5 767.5,862.5 756.0,881.5" fill="#40bfc9" stroke="#40bfc9" stroke-width="7" stroke-linejoin="round"/>
<polygon points="748.8,865.0 763.2,865.0 756.0,877.2" fill="#000"/>
<polygon points="728.8,896.5 751.8,896.5 740.3,915.5" fill="#40bfc9" stroke="#40bfc9" stroke-width="7" stroke-linejoin="round"/>
<polygon points="733.1,899.0 747.5,899.0 740.3,911.2" fill="#000"/>
<polygon points="709.1,894.9 732.1,894.9 720.6,913.9" fill="#40bfc9" stroke="#40bfc9" stroke-width="7" stroke-linejoin="round"/>
<polygon points="713.4,897.4 727.8,897.4 720.6,909.6" fill="#000"/>
<polygon points="710.5,910.1 733.5,910.1 722.0,929.1" fill="#40bfc9" stroke="#40bfc9" stroke-width="7" stroke-linejoin="round"/>
<polygon points="714.8,912.6 729.2,912.6 722.0,924.8" fill="#000"/>
<rect x="455.7" y="1081.7" width="16" height="16" rx="1.5" fill="#4fbf9e" stroke="#4fbf9e" stroke-width="3"/>
<rect x="458.7" y="1084.5" width="10" height="10.4" fill="#000"/>
<rect x="438.0" y="1105.5" width="16" height="16" rx="1.5" fill="#4fbf9e" stroke="#4fbf9e" stroke-width="3"/>
<rect x="441.0" y="1108.3" width="10" height="10.4" fill="#000"/>
<rect x="445.5" y="1105.5" width="16" height="16" rx="1.5" fill="#4fbf9e" stroke="#4fbf9e" stroke-width="3"/>
<rect x="448.5" y="1108.3" width="10" height="10.4" fill="#000"/>
<polygon points="976.8,1414.0 999.8,1414.0 988.3,1433.0" fill="#b6a0e4" stroke="#b6a0e4" stroke-width="7" stroke-linejoin="round"/>
<polygon points="980.3,1416.5 994.7,1416.5 987.5,1428.7" fill="#000"/>
<circle cx="745.4" cy="1515.5" r="9.6" fill="#de9ade"/>
<circle cx="745.4" cy="1515.5" r="5.2" fill="#000"/>
<circle cx="739.3" cy="1532.3" r="9.6" fill="#de9ade"/>
<circle cx="739.3" cy="1532.3" r="5.2" fill="#000"/>
<circle cx="750.0" cy="1533.0" r="9.6" fill="#de9ade"/>
<circle cx="750.0" cy="1533.0" r="5.2" fill="#000"/>
<circle cx="733.2" cy="1540.6" r="9.6" fill="#de9ade"/>
<circle cx="733.2" cy="1540.6" r="5.2" fill="#000"/>
<circle cx="732.5" cy="1546.0" r="9.6" fill="#de9ade"/>
<circle cx="732.5" cy="1546.0" r="5.2" fill="#000"/>
<circle cx="705.9" cy="1555.8" r="9.6" fill="#de9ade"/>
<circle cx="705.9" cy="1555.8" r="5.2" fill="#000"/>
<circle cx="718.8" cy="1555.1" r="9.6" fill="#de9ade"/>
<circle cx="718.8" cy="1555.1" r="5.2" fill="#000"/>
<circle cx="713.5" cy="1573.3" r="9.6" fill="#de9ade"/>
<circle cx="713.5" cy="1573.3" r="5.2" fill="#000"/>
<circle cx="702.8" cy="1589.3" r="9.6" fill="#de9ade"/>
<circle cx="702.8" cy="1589.3" r="5.2" fill="#000"/>
<circle cx="699.0" cy="1604.5" r="9.6" fill="#de9ade"/>
<circle cx="699.0" cy="1604.5" r="5.2" fill="#000"/>
<polygon points="755.2,1543.5 775.2,1543.5 765.2,1526.5" fill="#e2a982" stroke="#e2a982" stroke-width="7" stroke-linejoin="round"/>
<polygon points="758.0,1542.8 772.4,1542.8 765.2,1530.8" fill="#000"/>
<polygon points="762.8,1548.5 782.8,1548.5 772.8,1531.5" fill="#e2a982" stroke="#e2a982" stroke-width="7" stroke-linejoin="round"/>
<polygon points="765.6,1547.8 780.0,1547.8 772.8,1535.8" fill="#000"/>
<polygon points="800.8,1538.0 820.8,1538.0 810.8,1521.0" fill="#e2a982" stroke="#e2a982" stroke-width="7" stroke-linejoin="round"/>
<polygon points="803.6,1537.3 818.0,1537.3 810.8,1525.3" fill="#000"/>
<polygon points="755.2,1529.6 775.2,1529.6 765.2,1512.6" fill="#e2a982" stroke="#e2a982" stroke-width="7" stroke-linejoin="round"/>
<polygon points="758.0,1528.9 772.4,1528.9 765.2,1516.9" fill="#000"/>
<polygon points="778.8,1523.5 798.8,1523.5 788.8,1506.5" fill="#e2a982" stroke="#e2a982" stroke-width="7" stroke-linejoin="round"/>
<polygon points="781.6,1522.8 796.0,1522.8 788.8,1510.8" fill="#000"/>
<polygon points="792.5,1523.5 812.5,1523.5 802.5,1506.5" fill="#e2a982" stroke="#e2a982" stroke-width="7" stroke-linejoin="round"/>
<polygon points="795.3,1522.8 809.7,1522.8 802.5,1510.8" fill="#000"/>
<polygon points="791.7,1544.9 811.7,1544.9 801.7,1527.9" fill="#e2a982" stroke="#e2a982" stroke-width="7" stroke-linejoin="round"/>
<polygon points="794.5,1544.2 808.9,1544.2 801.7,1532.2" fill="#000"/>
<polygon points="869.6,1493.5 889.6,1493.5 879.6,1476.5" fill="#e2a982" stroke="#e2a982" stroke-width="7" stroke-linejoin="round"/>
<polygon points="872.4,1492.8 886.8,1492.8 879.6,1480.8" fill="#000"/>
<rect x="1081.5" y="1481.5" width="16" height="16" rx="1.5" fill="#e79fad" stroke="#e79fad" stroke-width="3"/>
<rect x="1084.5" y="1484.3" width="10" height="10.4" fill="#000"/>
<rect x="1079.8" y="1565.7" width="16" height="16" rx="1.5" fill="#e79fad" stroke="#e79fad" stroke-width="3"/>
<rect x="1082.8" y="1568.5" width="10" height="10.4" fill="#000"/>
<rect x="1020.4" y="1574.6" width="16" height="16" rx="1.5" fill="#e79fad" stroke="#e79fad" stroke-width="3"/>
<rect x="1023.4" y="1577.4" width="10" height="10.4" fill="#000"/>
<rect x="1042.5" y="1574.4" width="16" height="16" rx="1.5" fill="#e79fad" stroke="#e79fad" stroke-width="3"/>
<rect x="1045.5" y="1577.2" width="10" height="10.4" fill="#000"/>
<rect x="1057.7" y="1575.6" width="16" height="16" rx="1.5" fill="#e79fad" stroke="#e79fad" stroke-width="3"/>
<rect x="1060.7" y="1578.4" width="10" height="10.4" fill="#000"/>
<polygon points="556.0,1673.5 565.8,1683.3 556.0,1693.1 546.2,1683.3" fill="#88c17a" stroke="#88c17a" stroke-width="4" stroke-linejoin="round"/>
<polygon points="556.0,1676.7 562.6,1683.3 556.0,1689.9 549.4,1683.3" fill="#000"/>
<polygon points="540.5,1690.2 550.3,1700.0 540.5,1709.8 530.7,1700.0" fill="#88c17a" stroke="#88c17a" stroke-width="4" stroke-linejoin="round"/>
<polygon points="540.5,1693.4 547.1,1700.0 540.5,1706.6 533.9,1700.0" fill="#000"/>
<polygon points="553.8,1685.1 563.6,1694.9 553.8,1704.7 544.0,1694.9" fill="#88c17a" stroke="#88c17a" stroke-width="4" stroke-linejoin="round"/>
<polygon points="553.8,1688.3 560.4,1694.9 553.8,1701.5 547.2,1694.9" fill="#000"/>
<polygon points="558.8,1697.8 568.6,1707.6 558.8,1717.4 549.0,1707.6" fill="#88c17a" stroke="#88c17a" stroke-width="4" stroke-linejoin="round"/>
<polygon points="558.8,1701.0 565.4,1707.6 558.8,1714.2 552.2,1707.6" fill="#000"/>
<polygon points="592.5,1690.1 602.3,1699.9 592.5,1709.7 582.7,1699.9" fill="#88c17a" stroke="#88c17a" stroke-width="4" stroke-linejoin="round"/>
<polygon points="592.5,1693.3 599.1,1699.9 592.5,1706.5 585.9,1699.9" fill="#000"/>
<polygon points="579.2,1689.5 589.0,1699.3 579.2,1709.1 569.4,1699.3" fill="#88c17a" stroke="#88c17a" stroke-width="4" stroke-linejoin="round"/>
<polygon points="579.2,1692.7 585.8,1699.3 579.2,1705.9 572.6,1699.3" fill="#000"/>
<clipPath id="c0"><rect x="598.3" y="150.4" width="246.0" height="240.3"/></clipPath>
<rect x="598.3" y="57.1" width="246.0" height="333.6" fill="#fff" fill-opacity="0.55"/>
<path d="M605.6,135.9 C615.3,133.8 644.9,127.4 664.0,123.6 C683.1,119.8 705.7,115.8 720.0,113.0 C734.3,110.2 740.8,108.9 750.0,106.5 C759.2,104.1 766.7,101.7 775.0,98.5 C783.3,95.3 789.7,92.1 800.0,87.5 C810.3,82.9 830.5,73.8 836.6,71.0" fill="none" stroke="#000" stroke-width="3" stroke-linecap="round" stroke-linejoin="round"/>
<g clip-path="url(#c0)">
<polygon points="712.6,363.3 742.8,357.3 824.3,322.2 824.3,340.2 742.8,369.3 712.6,375.3" fill="#ffa500" stroke="#ffa500" stroke-width="3" stroke-linejoin="round"/>
<path d="M712.6,369.3 L742.8,363.3 L824.3,331.2" fill="none" stroke="#000" stroke-width="6.5" stroke-linecap="round" stroke-linejoin="round"/>
</g>
<rect x="598.3" y="57.1" width="246.0" height="333.6" fill="none" stroke="#000" stroke-width="2.4"/>
<line x1="598.3" y1="150.4" x2="844.3" y2="150.4" stroke="#000" stroke-width="2.4"/>
<line x1="578.3" y1="73.6" x2="598.3" y2="73.6" stroke="#000" stroke-width="2"/>
<text transform="translate(572.3,73.6) rotate(-90)" font-size="32.5" text-anchor="middle">-8</text>
<line x1="578.3" y1="138.0" x2="598.3" y2="138.0" stroke="#000" stroke-width="2"/>
<text transform="translate(572.3,138.0) rotate(-90)" font-size="32.5" text-anchor="middle">-11</text>
<line x1="578.3" y1="370.1" x2="598.3" y2="370.1" stroke="#000" stroke-width="2"/>
<text transform="translate(572.3,370.1) rotate(-90)" font-size="32.5" text-anchor="middle">0</text>
<line x1="578.3" y1="311.8" x2="598.3" y2="311.8" stroke="#000" stroke-width="2"/>
<text transform="translate(572.3,311.8) rotate(-90)" font-size="32.5" text-anchor="middle">10</text>
<line x1="578.3" y1="253.5" x2="598.3" y2="253.5" stroke="#000" stroke-width="2"/>
<line x1="578.3" y1="195.2" x2="598.3" y2="195.2" stroke="#000" stroke-width="2"/>
<text transform="translate(572.3,195.2) rotate(-90)" font-size="32.5" text-anchor="middle">30</text>
<line x1="653.3" y1="390.7" x2="653.3" y2="410.7" stroke="#000" stroke-width="2"/>
<text x="653.3" y="441.2" font-size="32.5" text-anchor="middle">1900</text>
<line x1="809.6" y1="390.7" x2="809.6" y2="410.7" stroke="#000" stroke-width="2"/>
<text x="809.6" y="441.2" font-size="32.5" text-anchor="middle">2000</text>
<text transform="translate(522.8,103.8) rotate(-90)" font-size="32.5" text-anchor="middle" letter-spacing="0.8">Temp.</text>
<text transform="translate(528.7,270.6) rotate(-90)" font-size="32.5" text-anchor="middle">Δ Richness</text>
<text x="629.3" y="186.1" font-size="32">N<tspan font-size="22.5" dy="4.8">obs</tspan><tspan dy="-4.8"> = 7/14</tspan></text>
<text x="626.8" y="227.1" font-size="32">ΔT<tspan font-size="22.5" dy="5.5">cor</tspan><tspan dy="-5.5"> = 0.61</tspan></text>
<clipPath id="c1"><rect x="229.5" y="430.0" width="246.0" height="240.3"/></clipPath>
<rect x="229.5" y="336.7" width="246.0" height="333.6" fill="#fff" fill-opacity="0.55"/>
<path d="M238.9,407.6 C246.2,406.3 270.4,401.8 282.6,399.6 C294.8,397.4 302.9,395.9 312.3,394.2 C321.7,392.5 330.2,389.8 339.2,389.6 C348.2,389.4 357.4,391.6 366.2,392.8 C375.0,394.0 385.1,396.9 391.8,396.9 C398.6,396.9 399.7,396.2 406.7,392.8 C413.7,389.4 423.3,382.9 433.6,376.6 C443.9,370.3 462.9,358.7 468.7,355.1" fill="none" stroke="#000" stroke-width="3" stroke-linecap="round" stroke-linejoin="round"/>
<g clip-path="url(#c1)">
<polygon points="329.8,642.6 395.9,639.3 463.3,545.0 463.3,572.0 395.9,653.3 329.8,656.6" fill="#ffa500" stroke="#ffa500" stroke-width="3" stroke-linejoin="round"/>
<path d="M329.8,649.6 L395.9,646.3 L463.3,560.0" fill="none" stroke="#000" stroke-width="6.5" stroke-linecap="round" stroke-linejoin="round"/>
</g>
<rect x="229.5" y="336.7" width="246.0" height="333.6" fill="none" stroke="#000" stroke-width="2.4"/>
<line x1="229.5" y1="430.0" x2="475.5" y2="430.0" stroke="#000" stroke-width="2.4"/>
<line x1="209.5" y1="344.3" x2="229.5" y2="344.3" stroke="#000" stroke-width="2"/>
<text transform="translate(203.5,344.3) rotate(-90)" font-size="32.5" text-anchor="middle">-2</text>
<line x1="209.5" y1="407.6" x2="229.5" y2="407.6" stroke="#000" stroke-width="2"/>
<text transform="translate(203.5,407.6) rotate(-90)" font-size="32.5" text-anchor="middle">-4</text>
<line x1="209.5" y1="649.7" x2="229.5" y2="649.7" stroke="#000" stroke-width="2"/>
<text transform="translate(203.5,649.7) rotate(-90)" font-size="32.5" text-anchor="middle">0</text>
<line x1="209.5" y1="591.4" x2="229.5" y2="591.4" stroke="#000" stroke-width="2"/>
<text transform="translate(203.5,591.4) rotate(-90)" font-size="32.5" text-anchor="middle">10</text>
<line x1="209.5" y1="533.1" x2="229.5" y2="533.1" stroke="#000" stroke-width="2"/>
<line x1="209.5" y1="474.8" x2="229.5" y2="474.8" stroke="#000" stroke-width="2"/>
<text transform="translate(203.5,474.8) rotate(-90)" font-size="32.5" text-anchor="middle">30</text>
<line x1="284.5" y1="670.3" x2="284.5" y2="690.3" stroke="#000" stroke-width="2"/>
<text x="284.5" y="720.8" font-size="32.5" text-anchor="middle">1900</text>
<line x1="440.8" y1="670.3" x2="440.8" y2="690.3" stroke="#000" stroke-width="2"/>
<text x="440.8" y="720.8" font-size="32.5" text-anchor="middle">2000</text>
<text transform="translate(154.0,383.3) rotate(-90)" font-size="32.5" text-anchor="middle" letter-spacing="0.8">Temp.</text>
<text transform="translate(159.9,550.1) rotate(-90)" font-size="32.5" text-anchor="middle">Δ Richness</text>
<text x="260.5" y="465.7" font-size="32">N<tspan font-size="22.5" dy="4.8">obs</tspan><tspan dy="-4.8"> = 27/64</tspan></text>
<text x="258.0" y="506.7" font-size="32">ΔT<tspan font-size="22.5" dy="5.5">cor</tspan><tspan dy="-5.5"> = 0.07</tspan></text>
<clipPath id="c2"><rect x="1140.6" y="546.2" width="246.0" height="240.3"/></clipPath>
<rect x="1140.6" y="452.9" width="246.0" height="333.6" fill="#fff" fill-opacity="0.55"/>
<path d="M1148.7,527.6 C1154.1,527.4 1172.0,527.4 1181.0,526.3 C1190.0,525.2 1195.4,523.4 1202.6,520.9 C1209.8,518.4 1216.1,514.3 1224.2,511.5 C1232.3,508.7 1243.0,504.6 1251.1,503.9 C1259.2,503.2 1264.6,505.9 1272.7,507.4 C1280.8,508.9 1291.6,512.6 1299.7,512.8 C1307.8,513.0 1314.6,511.5 1321.3,508.8 C1328.0,506.1 1333.8,501.1 1340.1,496.6 C1346.4,492.1 1352.5,487.0 1359.0,481.8 C1365.5,476.6 1375.8,468.3 1379.2,465.6" fill="none" stroke="#000" stroke-width="3" stroke-linecap="round" stroke-linejoin="round"/>
<g clip-path="url(#c2)">
<polygon points="1174.3,754.3 1229.6,723.6 1352.3,664.6 1365.8,638.4 1377.9,629.0 1377.9,664.0 1365.8,670.4 1352.3,684.6 1229.6,741.6 1174.3,778.3" fill="#ffa500" stroke="#ffa500" stroke-width="3" stroke-linejoin="round"/>
<path d="M1174.3,766.3 L1229.6,732.6 L1352.3,674.6 L1365.8,654.4 L1377.9,649.0" fill="none" stroke="#000" stroke-width="6.5" stroke-linecap="round" stroke-linejoin="round"/>
</g>
<rect x="1140.6" y="452.9" width="246.0" height="333.6" fill="none" stroke="#000" stroke-width="2.4"/>
<line x1="1140.6" y1="546.2" x2="1386.6" y2="546.2" stroke="#000" stroke-width="2.4"/>
<line x1="1120.6" y1="465.6" x2="1140.6" y2="465.6" stroke="#000" stroke-width="2"/>
<text transform="translate(1114.6,465.6) rotate(-90)" font-size="32.5" text-anchor="middle">-2</text>
<line x1="1120.6" y1="529.0" x2="1140.6" y2="529.0" stroke="#000" stroke-width="2"/>
<text transform="translate(1114.6,529.0) rotate(-90)" font-size="32.5" text-anchor="middle">-4</text>
<line x1="1120.6" y1="765.9" x2="1140.6" y2="765.9" stroke="#000" stroke-width="2"/>
<text transform="translate(1114.6,765.9) rotate(-90)" font-size="32.5" text-anchor="middle">0</text>
<line x1="1120.6" y1="707.6" x2="1140.6" y2="707.6" stroke="#000" stroke-width="2"/>
<text transform="translate(1114.6,707.6) rotate(-90)" font-size="32.5" text-anchor="middle">10</text>
<line x1="1120.6" y1="649.3" x2="1140.6" y2="649.3" stroke="#000" stroke-width="2"/>
<line x1="1120.6" y1="591.0" x2="1140.6" y2="591.0" stroke="#000" stroke-width="2"/>
<text transform="translate(1114.6,591.0) rotate(-90)" font-size="32.5" text-anchor="middle">30</text>
<line x1="1195.6" y1="786.5" x2="1195.6" y2="806.5" stroke="#000" stroke-width="2"/>
<text x="1195.6" y="837.0" font-size="32.5" text-anchor="middle">1900</text>
<line x1="1351.9" y1="786.5" x2="1351.9" y2="806.5" stroke="#000" stroke-width="2"/>
<text x="1351.9" y="837.0" font-size="32.5" text-anchor="middle">2000</text>
<text transform="translate(1065.1,499.5) rotate(-90)" font-size="32.5" text-anchor="middle" letter-spacing="0.8">Temp.</text>
<text transform="translate(1071.0,666.3) rotate(-90)" font-size="32.5" text-anchor="middle">Δ Richness</text>
<text x="1171.6" y="581.9" font-size="32">N<tspan font-size="22.5" dy="4.8">obs</tspan><tspan dy="-4.8"> = 54/108</tspan></text>
<text x="1169.1" y="622.9" font-size="32">ΔT<tspan font-size="22.5" dy="5.5">cor</tspan><tspan dy="-5.5"> = 0.57</tspan></text>
<clipPath id="c3"><rect x="177.9" y="850.8" width="246.0" height="240.3"/></clipPath>
<rect x="177.9" y="757.5" width="246.0" height="333.6" fill="#fff" fill-opacity="0.55"/>
<path d="M186.0,829.8 C193.6,828.3 219.7,823.0 231.8,820.9 C243.9,818.8 248.0,818.6 258.8,816.9 C269.6,815.2 283.5,811.2 296.5,810.7 C309.5,810.2 326.2,813.9 337.0,813.6 C347.8,813.3 352.8,811.8 361.3,808.8 C369.8,805.8 379.2,799.3 388.2,795.3 C397.2,791.2 410.7,786.3 415.2,784.5" fill="none" stroke="#000" stroke-width="3" stroke-linecap="round" stroke-linejoin="round"/>
<g clip-path="url(#c3)">
<polygon points="250.7,1065.9 408.5,902.7 408.5,911.7 250.7,1074.9" fill="#ffa500" stroke="#ffa500" stroke-width="3" stroke-linejoin="round"/>
<path d="M250.7,1070.4 L408.5,907.2" fill="none" stroke="#000" stroke-width="6.5" stroke-linecap="round" stroke-linejoin="round"/>
</g>
<rect x="177.9" y="757.5" width="246.0" height="333.6" fill="none" stroke="#000" stroke-width="2.4"/>
<line x1="177.9" y1="850.8" x2="423.9" y2="850.8" stroke="#000" stroke-width="2.4"/>
<line x1="157.9" y1="779.9" x2="177.9" y2="779.9" stroke="#000" stroke-width="2"/>
<text transform="translate(151.9,779.9) rotate(-90)" font-size="32.5" text-anchor="middle">5</text>
<line x1="157.9" y1="843.3" x2="177.9" y2="843.3" stroke="#000" stroke-width="2"/>
<text transform="translate(151.9,843.3) rotate(-90)" font-size="32.5" text-anchor="middle">3</text>
<line x1="157.9" y1="1070.5" x2="177.9" y2="1070.5" stroke="#000" stroke-width="2"/>
<text transform="translate(151.9,1070.5) rotate(-90)" font-size="32.5" text-anchor="middle">0</text>
<line x1="157.9" y1="1012.2" x2="177.9" y2="1012.2" stroke="#000" stroke-width="2"/>
<text transform="translate(151.9,1012.2) rotate(-90)" font-size="32.5" text-anchor="middle">10</text>
<line x1="157.9" y1="953.9" x2="177.9" y2="953.9" stroke="#000" stroke-width="2"/>
<line x1="157.9" y1="895.6" x2="177.9" y2="895.6" stroke="#000" stroke-width="2"/>
<text transform="translate(151.9,895.6) rotate(-90)" font-size="32.5" text-anchor="middle">30</text>
<line x1="232.9" y1="1091.1" x2="232.9" y2="1111.1" stroke="#000" stroke-width="2"/>
<text x="232.9" y="1141.6" font-size="32.5" text-anchor="middle">1900</text>
<line x1="389.2" y1="1091.1" x2="389.2" y2="1111.1" stroke="#000" stroke-width="2"/>
<text x="389.2" y="1141.6" font-size="32.5" text-anchor="middle">2000</text>
<text transform="translate(102.4,804.1) rotate(-90)" font-size="32.5" text-anchor="middle" letter-spacing="0.8">Temp.</text>
<text transform="translate(108.3,970.9) rotate(-90)" font-size="32.5" text-anchor="middle">Δ Richness</text>
<text x="208.9" y="886.5" font-size="32">N<tspan font-size="22.5" dy="4.8">obs</tspan><tspan dy="-4.8"> = 7/14</tspan></text>
<text x="206.4" y="927.5" font-size="32">ΔT<tspan font-size="22.5" dy="5.5">cor</tspan><tspan dy="-5.5"> = 0.12</tspan></text>
<clipPath id="c4"><rect x="212.7" y="1271.6" width="246.0" height="240.3"/></clipPath>
<rect x="212.7" y="1178.3" width="246.0" height="333.6" fill="#fff" fill-opacity="0.55"/>
<path d="M221.4,1249.8 C229.9,1249.1 258.7,1247.7 272.6,1245.8 C286.5,1243.9 294.7,1240.4 305.0,1238.2 C315.3,1236.0 323.8,1233.5 334.6,1232.8 C345.4,1232.1 361.1,1234.5 369.7,1234.2 C378.2,1233.9 379.2,1233.4 385.9,1230.7 C392.6,1228.0 399.3,1224.9 410.1,1218.0 C420.9,1211.1 443.9,1193.9 450.6,1189.1" fill="none" stroke="#000" stroke-width="3" stroke-linecap="round" stroke-linejoin="round"/>
<g clip-path="url(#c4)">
<polygon points="265.9,1482.2 315.8,1464.8 369.7,1442.9 422.3,1423.0 434.4,1382.7 442.5,1351.8 449.2,1338.4 449.2,1400.4 442.5,1405.8 434.4,1422.7 422.3,1439.0 369.7,1456.9 315.8,1480.8 265.9,1500.2" fill="#ffa500" stroke="#ffa500" stroke-width="3" stroke-linejoin="round"/>
<path d="M265.9,1491.2 L315.8,1472.8 L369.7,1449.9 L422.3,1431.0 L434.4,1402.7 L442.5,1379.8 L449.2,1370.4" fill="none" stroke="#000" stroke-width="6.5" stroke-linecap="round" stroke-linejoin="round"/>
</g>
<rect x="212.7" y="1178.3" width="246.0" height="333.6" fill="none" stroke="#000" stroke-width="2.4"/>
<line x1="212.7" y1="1271.6" x2="458.7" y2="1271.6" stroke="#000" stroke-width="2.4"/>
<line x1="192.7" y1="1181.0" x2="212.7" y2="1181.0" stroke="#000" stroke-width="2"/>
<text transform="translate(186.7,1181.0) rotate(-90)" font-size="32.5" text-anchor="middle">-2</text>
<line x1="192.7" y1="1245.8" x2="212.7" y2="1245.8" stroke="#000" stroke-width="2"/>
<text transform="translate(186.7,1245.8) rotate(-90)" font-size="32.5" text-anchor="middle">-4</text>
<line x1="192.7" y1="1491.3" x2="212.7" y2="1491.3" stroke="#000" stroke-width="2"/>
<text transform="translate(186.7,1491.3) rotate(-90)" font-size="32.5" text-anchor="middle">0</text>
<line x1="192.7" y1="1433.0" x2="212.7" y2="1433.0" stroke="#000" stroke-width="2"/>
<text transform="translate(186.7,1433.0) rotate(-90)" font-size="32.5" text-anchor="middle">10</text>
<line x1="192.7" y1="1374.7" x2="212.7" y2="1374.7" stroke="#000" stroke-width="2"/>
<line x1="192.7" y1="1316.4" x2="212.7" y2="1316.4" stroke="#000" stroke-width="2"/>
<text transform="translate(186.7,1316.4) rotate(-90)" font-size="32.5" text-anchor="middle">30</text>
<line x1="267.7" y1="1511.9" x2="267.7" y2="1531.9" stroke="#000" stroke-width="2"/>
<text x="267.7" y="1562.4" font-size="32.5" text-anchor="middle">1900</text>
<line x1="424.0" y1="1511.9" x2="424.0" y2="1531.9" stroke="#000" stroke-width="2"/>
<text x="424.0" y="1562.4" font-size="32.5" text-anchor="middle">2000</text>
<text transform="translate(137.2,1225.0) rotate(-90)" font-size="32.5" text-anchor="middle" letter-spacing="0.8">Temp.</text>
<text transform="translate(143.1,1391.8) rotate(-90)" font-size="32.5" text-anchor="middle">Δ Richness</text>
<text x="243.7" y="1307.3" font-size="32">N<tspan font-size="22.5" dy="4.8">obs</tspan><tspan dy="-4.8"> = 48/104</tspan></text>
<text x="241.2" y="1348.3" font-size="32">ΔT<tspan font-size="22.5" dy="5.5">cor</tspan><tspan dy="-5.5"> = 0.61</tspan></text>
<clipPath id="c5"><rect x="1140.6" y="1106.8" width="246.0" height="240.3"/></clipPath>
<rect x="1140.6" y="1013.5" width="246.0" height="333.6" fill="#fff" fill-opacity="0.55"/>
<path d="M1148.7,1090.3 C1155.9,1088.5 1179.2,1082.7 1191.8,1079.6 C1204.4,1076.5 1213.4,1073.5 1224.2,1071.5 C1235.0,1069.5 1247.5,1067.7 1256.5,1067.4 C1265.5,1067.1 1270.9,1068.9 1278.1,1069.6 C1285.3,1070.3 1292.5,1071.5 1299.7,1071.5 C1306.9,1071.5 1314.1,1071.6 1321.3,1069.6 C1328.5,1067.6 1335.6,1063.5 1342.8,1059.3 C1350.0,1055.1 1358.3,1049.7 1364.4,1044.5 C1370.5,1039.3 1376.7,1031.0 1379.2,1028.3" fill="none" stroke="#000" stroke-width="3" stroke-linecap="round" stroke-linejoin="round"/>
<g clip-path="url(#c5)">
<polygon points="1162.1,1309.7 1175.6,1308.3 1235.0,1262.5 1268.7,1259.4 1352.3,1209.2 1364.4,1184.4 1375.2,1178.0 1375.2,1231.0 1364.4,1236.4 1352.3,1249.2 1268.7,1293.4 1235.0,1298.5 1175.6,1344.3 1162.1,1345.7" fill="#ffa500" stroke="#ffa500" stroke-width="3" stroke-linejoin="round"/>
<path d="M1162.1,1327.7 L1175.6,1326.3 L1235.0,1280.5 L1268.7,1276.4 L1352.3,1229.2 L1364.4,1210.4 L1375.2,1205.0" fill="none" stroke="#000" stroke-width="6.5" stroke-linecap="round" stroke-linejoin="round"/>
</g>
<rect x="1140.6" y="1013.5" width="246.0" height="333.6" fill="none" stroke="#000" stroke-width="2.4"/>
<line x1="1140.6" y1="1106.8" x2="1386.6" y2="1106.8" stroke="#000" stroke-width="2.4"/>
<line x1="1120.6" y1="1027.0" x2="1140.6" y2="1027.0" stroke="#000" stroke-width="2"/>
<text transform="translate(1114.6,1027.0) rotate(-90)" font-size="32.5" text-anchor="middle">-1</text>
<line x1="1120.6" y1="1090.3" x2="1140.6" y2="1090.3" stroke="#000" stroke-width="2"/>
<text transform="translate(1114.6,1090.3) rotate(-90)" font-size="32.5" text-anchor="middle">-3</text>
<line x1="1120.6" y1="1326.5" x2="1140.6" y2="1326.5" stroke="#000" stroke-width="2"/>
<text transform="translate(1114.6,1326.5) rotate(-90)" font-size="32.5" text-anchor="middle">0</text>
<line x1="1120.6" y1="1268.2" x2="1140.6" y2="1268.2" stroke="#000" stroke-width="2"/>
<text transform="translate(1114.6,1268.2) rotate(-90)" font-size="32.5" text-anchor="middle">10</text>
<line x1="1120.6" y1="1209.9" x2="1140.6" y2="1209.9" stroke="#000" stroke-width="2"/>
<line x1="1120.6" y1="1151.6" x2="1140.6" y2="1151.6" stroke="#000" stroke-width="2"/>
<text transform="translate(1114.6,1151.6) rotate(-90)" font-size="32.5" text-anchor="middle">30</text>
<line x1="1195.6" y1="1347.1" x2="1195.6" y2="1367.1" stroke="#000" stroke-width="2"/>
<text x="1195.6" y="1397.6" font-size="32.5" text-anchor="middle">1900</text>
<line x1="1351.9" y1="1347.1" x2="1351.9" y2="1367.1" stroke="#000" stroke-width="2"/>
<text x="1351.9" y="1397.6" font-size="32.5" text-anchor="middle">2000</text>
<text transform="translate(1065.1,1060.2) rotate(-90)" font-size="32.5" text-anchor="middle" letter-spacing="0.8">Temp.</text>
<text transform="translate(1071.0,1227.0) rotate(-90)" font-size="32.5" text-anchor="middle">Δ Richness</text>
<text x="1171.6" y="1142.5" font-size="32">N<tspan font-size="22.5" dy="4.8">obs</tspan><tspan dy="-4.8"> = 16/33</tspan></text>
<text x="1169.1" y="1183.5" font-size="32">ΔT<tspan font-size="22.5" dy="5.5">cor</tspan><tspan dy="-5.5"> = 0.24</tspan></text>
<clipPath id="c6"><rect x="282.7" y="1691.6" width="246.0" height="240.3"/></clipPath>
<rect x="282.7" y="1598.3" width="246.0" height="333.6" fill="#fff" fill-opacity="0.55"/>
<path d="M291.4,1677.1 C299.9,1676.4 331.4,1674.3 342.6,1673.0 C353.8,1671.7 351.6,1671.7 358.8,1669.0 C366.0,1666.3 376.7,1659.7 385.7,1656.9 C394.7,1654.1 402.8,1653.2 412.7,1652.3 C422.6,1651.4 437.9,1652.1 445.1,1651.5 C452.3,1650.9 452.3,1650.6 455.9,1648.8 C459.5,1647.0 460.4,1645.4 466.7,1640.7 C473.0,1636.0 484.4,1626.5 493.6,1620.5 C502.8,1614.5 517.3,1607.4 522.0,1604.8" fill="none" stroke="#000" stroke-width="3" stroke-linecap="round" stroke-linejoin="round"/>
<g clip-path="url(#c6)">
<polygon points="306.2,1903.7 418.1,1841.3 495.0,1780.0 505.8,1701.8 517.9,1693.7 517.9,1768.7 505.8,1769.8 495.0,1798.0 418.1,1855.3 306.2,1918.7" fill="#ffa500" stroke="#ffa500" stroke-width="3" stroke-linejoin="round"/>
<path d="M306.2,1911.2 L418.1,1848.3 L495.0,1789.0 L505.8,1741.8 L517.9,1733.7" fill="none" stroke="#000" stroke-width="6.5" stroke-linecap="round" stroke-linejoin="round"/>
</g>
<rect x="282.7" y="1598.3" width="246.0" height="333.6" fill="none" stroke="#000" stroke-width="2.4"/>
<line x1="282.7" y1="1691.6" x2="528.7" y2="1691.6" stroke="#000" stroke-width="2.4"/>
<line x1="262.7" y1="1624.0" x2="282.7" y2="1624.0" stroke="#000" stroke-width="2"/>
<text transform="translate(256.7,1624.0) rotate(-90)" font-size="32.5" text-anchor="middle">1</text>
<line x1="262.7" y1="1687.9" x2="282.7" y2="1687.9" stroke="#000" stroke-width="2"/>
<text transform="translate(256.7,1687.9) rotate(-90)" font-size="32.5" text-anchor="middle">-1</text>
<line x1="262.7" y1="1911.3" x2="282.7" y2="1911.3" stroke="#000" stroke-width="2"/>
<text transform="translate(256.7,1911.3) rotate(-90)" font-size="32.5" text-anchor="middle">0</text>
<line x1="262.7" y1="1853.0" x2="282.7" y2="1853.0" stroke="#000" stroke-width="2"/>
<text transform="translate(256.7,1853.0) rotate(-90)" font-size="32.5" text-anchor="middle">10</text>
<line x1="262.7" y1="1794.7" x2="282.7" y2="1794.7" stroke="#000" stroke-width="2"/>
<line x1="262.7" y1="1736.4" x2="282.7" y2="1736.4" stroke="#000" stroke-width="2"/>
<text transform="translate(256.7,1736.4) rotate(-90)" font-size="32.5" text-anchor="middle">30</text>
<line x1="337.7" y1="1931.9" x2="337.7" y2="1951.9" stroke="#000" stroke-width="2"/>
<text x="337.7" y="1982.4" font-size="32.5" text-anchor="middle">1900</text>
<line x1="494.0" y1="1931.9" x2="494.0" y2="1951.9" stroke="#000" stroke-width="2"/>
<text x="494.0" y="1982.4" font-size="32.5" text-anchor="middle">2000</text>
<text transform="translate(207.2,1645.0) rotate(-90)" font-size="32.5" text-anchor="middle" letter-spacing="0.8">Temp.</text>
<text transform="translate(213.1,1811.8) rotate(-90)" font-size="32.5" text-anchor="middle">Δ Richness</text>
<text x="313.7" y="1727.3" font-size="32">N<tspan font-size="22.5" dy="4.8">obs</tspan><tspan dy="-4.8"> = 12/24</tspan></text>
<text x="311.2" y="1768.3" font-size="32">ΔT<tspan font-size="22.5" dy="5.5">cor</tspan><tspan dy="-5.5"> = 0.43</tspan></text>
<clipPath id="c7"><rect x="756.0" y="1715.4" width="246.0" height="240.3"/></clipPath>
<rect x="756.0" y="1622.1" width="246.0" height="333.6" fill="#fff" fill-opacity="0.55"/>
<path d="M764.1,1690.3 C771.3,1690.2 793.7,1690.8 807.2,1689.8 C820.7,1688.8 832.6,1686.0 845.0,1684.0 C857.4,1682.0 870.0,1678.4 881.8,1677.5 C893.6,1676.6 907.3,1679.1 915.8,1678.4 C924.3,1677.7 924.3,1677.5 932.8,1673.3 C941.3,1669.1 956.6,1659.6 966.8,1653.4 C977.0,1647.2 989.3,1639.2 993.8,1636.4" fill="none" stroke="#000" stroke-width="3" stroke-linecap="round" stroke-linejoin="round"/>
<g clip-path="url(#c7)">
<polygon points="764.1,1925.1 825.1,1899.6 881.8,1879.7 938.5,1855.1 958.0,1837.5 971.0,1818.5 981.0,1802.4 992.3,1775.1 992.3,1837.1 981.0,1852.4 971.0,1858.5 958.0,1867.5 938.5,1877.1 881.8,1897.7 825.1,1917.6 764.1,1943.1" fill="#ffa500" stroke="#ffa500" stroke-width="3" stroke-linejoin="round"/>
<path d="M764.1,1934.1 L825.1,1908.6 L881.8,1888.7 L938.5,1866.1 L958.0,1852.5 L971.0,1838.5 L981.0,1826.4 L992.3,1805.1" fill="none" stroke="#000" stroke-width="6.5" stroke-linecap="round" stroke-linejoin="round"/>
</g>
<rect x="756.0" y="1622.1" width="246.0" height="333.6" fill="none" stroke="#000" stroke-width="2.4"/>
<line x1="756.0" y1="1715.4" x2="1002.0" y2="1715.4" stroke="#000" stroke-width="2.4"/>
<line x1="736.0" y1="1636.4" x2="756.0" y2="1636.4" stroke="#000" stroke-width="2"/>
<text transform="translate(730.0,1636.4) rotate(-90)" font-size="32.5" text-anchor="middle">-3</text>
<line x1="736.0" y1="1699.8" x2="756.0" y2="1699.8" stroke="#000" stroke-width="2"/>
<text transform="translate(730.0,1699.8) rotate(-90)" font-size="32.5" text-anchor="middle">-5</text>
<line x1="736.0" y1="1935.1" x2="756.0" y2="1935.1" stroke="#000" stroke-width="2"/>
<text transform="translate(730.0,1935.1) rotate(-90)" font-size="32.5" text-anchor="middle">0</text>
<line x1="736.0" y1="1876.8" x2="756.0" y2="1876.8" stroke="#000" stroke-width="2"/>
<text transform="translate(730.0,1876.8) rotate(-90)" font-size="32.5" text-anchor="middle">10</text>
<line x1="736.0" y1="1818.5" x2="756.0" y2="1818.5" stroke="#000" stroke-width="2"/>
<line x1="736.0" y1="1760.2" x2="756.0" y2="1760.2" stroke="#000" stroke-width="2"/>
<text transform="translate(730.0,1760.2) rotate(-90)" font-size="32.5" text-anchor="middle">30</text>
<line x1="811.0" y1="1955.7" x2="811.0" y2="1975.7" stroke="#000" stroke-width="2"/>
<text x="811.0" y="2006.2" font-size="32.5" text-anchor="middle">1900</text>
<line x1="967.3" y1="1955.7" x2="967.3" y2="1975.7" stroke="#000" stroke-width="2"/>
<text x="967.3" y="2006.2" font-size="32.5" text-anchor="middle">2000</text>
<text transform="translate(680.5,1668.8) rotate(-90)" font-size="32.5" text-anchor="middle" letter-spacing="0.8">Temp.</text>
<text transform="translate(686.4,1835.5) rotate(-90)" font-size="32.5" text-anchor="middle">Δ Richness</text>
<text x="787.0" y="1751.1" font-size="32">N<tspan font-size="22.5" dy="4.8">obs</tspan><tspan dy="-4.8"> = 122/319</tspan></text>
<text x="784.5" y="1792.1" font-size="32">ΔT<tspan font-size="22.5" dy="5.5">cor</tspan><tspan dy="-5.5"> = 0.36</tspan></text>
<clipPath id="c8"><rect x="1140.6" y="1668.9" width="246.0" height="240.3"/></clipPath>
<rect x="1140.6" y="1575.6" width="246.0" height="333.6" fill="#fff" fill-opacity="0.55"/>
<path d="M1148.7,1651.2 C1155.9,1649.0 1178.3,1641.8 1191.8,1638.2 C1205.3,1634.6 1217.0,1630.8 1229.6,1629.6 C1242.2,1628.3 1253.8,1629.9 1267.3,1630.7 C1280.8,1631.5 1300.6,1634.3 1310.5,1634.2 C1320.4,1634.1 1319.4,1634.4 1326.6,1630.1 C1333.8,1625.8 1344.8,1616.2 1353.6,1608.5 C1362.4,1600.8 1374.9,1587.8 1379.2,1583.7" fill="none" stroke="#000" stroke-width="3" stroke-linecap="round" stroke-linejoin="round"/>
<g clip-path="url(#c8)">
<polygon points="1252.5,1882.5 1352.3,1841.6 1364.4,1788.3 1373.8,1782.3 1373.8,1804.3 1364.4,1806.3 1352.3,1855.6 1252.5,1894.5" fill="#ffa500" stroke="#ffa500" stroke-width="3" stroke-linejoin="round"/>
<path d="M1252.5,1888.5 L1352.3,1848.6 L1364.4,1797.3 L1373.8,1793.3" fill="none" stroke="#000" stroke-width="6.5" stroke-linecap="round" stroke-linejoin="round"/>
</g>
<rect x="1140.6" y="1575.6" width="246.0" height="333.6" fill="none" stroke="#000" stroke-width="2.4"/>
<line x1="1140.6" y1="1668.9" x2="1386.6" y2="1668.9" stroke="#000" stroke-width="2.4"/>
<line x1="1120.6" y1="1597.8" x2="1140.6" y2="1597.8" stroke="#000" stroke-width="2"/>
<text transform="translate(1114.6,1597.8) rotate(-90)" font-size="32.5" text-anchor="middle">-1</text>
<line x1="1120.6" y1="1662.0" x2="1140.6" y2="1662.0" stroke="#000" stroke-width="2"/>
<text transform="translate(1114.6,1662.0) rotate(-90)" font-size="32.5" text-anchor="middle">-3</text>
<line x1="1120.6" y1="1888.6" x2="1140.6" y2="1888.6" stroke="#000" stroke-width="2"/>
<text transform="translate(1114.6,1888.6) rotate(-90)" font-size="32.5" text-anchor="middle">0</text>
<line x1="1120.6" y1="1830.3" x2="1140.6" y2="1830.3" stroke="#000" stroke-width="2"/>
<text transform="translate(1114.6,1830.3) rotate(-90)" font-size="32.5" text-anchor="middle">10</text>
<line x1="1120.6" y1="1772.0" x2="1140.6" y2="1772.0" stroke="#000" stroke-width="2"/>
<line x1="1120.6" y1="1713.7" x2="1140.6" y2="1713.7" stroke="#000" stroke-width="2"/>
<text transform="translate(1114.6,1713.7) rotate(-90)" font-size="32.5" text-anchor="middle">30</text>
<line x1="1195.6" y1="1909.2" x2="1195.6" y2="1929.2" stroke="#000" stroke-width="2"/>
<text x="1195.6" y="1959.7" font-size="32.5" text-anchor="middle">1900</text>
<line x1="1351.9" y1="1909.2" x2="1351.9" y2="1929.2" stroke="#000" stroke-width="2"/>
<text x="1351.9" y="1959.7" font-size="32.5" text-anchor="middle">2000</text>
<text transform="translate(1065.1,1622.2) rotate(-90)" font-size="32.5" text-anchor="middle" letter-spacing="0.8">Temp.</text>
<text transform="translate(1071.0,1789.0) rotate(-90)" font-size="32.5" text-anchor="middle">Δ Richness</text>
<text x="1171.6" y="1704.6" font-size="32">N<tspan font-size="22.5" dy="4.8">obs</tspan><tspan dy="-4.8"> = 9/18</tspan></text>
<text x="1169.1" y="1745.6" font-size="32">ΔT<tspan font-size="22.5" dy="5.5">cor</tspan><tspan dy="-5.5"> = 0.99</tspan></text>
</svg></body></html>
